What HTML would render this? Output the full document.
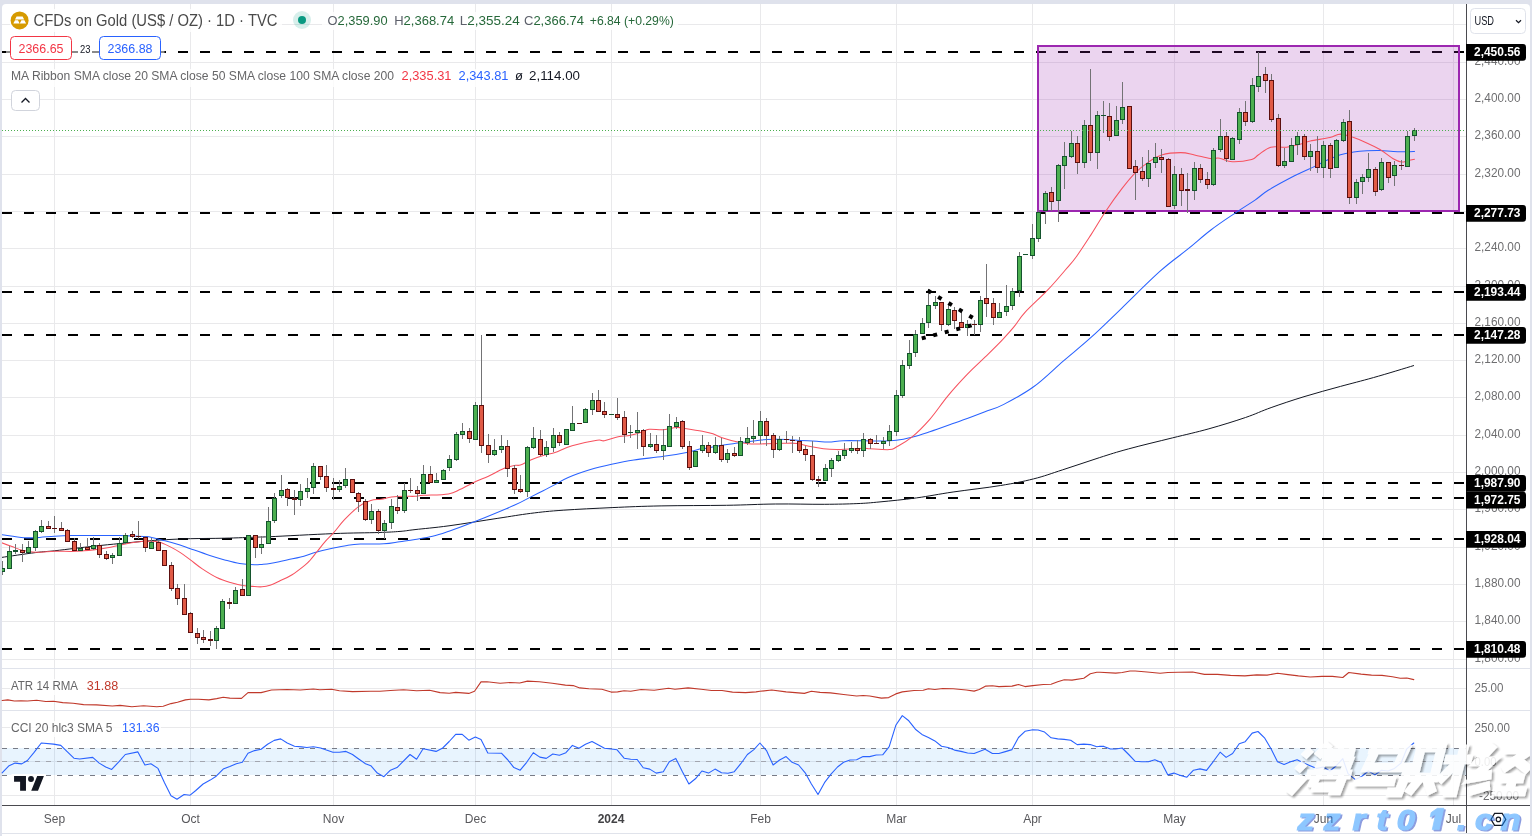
<!DOCTYPE html>
<html><head><meta charset="utf-8"><title>Gold chart</title>
<style>html,body{margin:0;padding:0;background:#dfe2ec;overflow:hidden}body{width:1532px;height:836px;font-family:"Liberation Sans",sans-serif}</style>
</head><body>
<svg width="1532" height="836" viewBox="0 0 1532 836" style="display:block;will-change:transform">
<defs>
<clipPath id="cm"><rect x="2" y="4" width="1464" height="664"/></clipPath>
<clipPath id="cp"><rect x="2" y="4" width="1528" height="832"/></clipPath>
<filter id="ws" x="-10%" y="-10%" width="130%" height="130%"><feGaussianBlur in="SourceAlpha" stdDeviation="1.3"/><feOffset dx="1.8" dy="2"/><feComponentTransfer><feFuncA type="linear" slope="0.42"/></feComponentTransfer><feMerge><feMergeNode/><feMergeNode in="SourceGraphic"/></feMerge></filter>
</defs>
<rect width="1532" height="836" fill="#dfe2ec"/>
<path d="M2 836V8a4 4 0 0 1 4-4H1526a4 4 0 0 1 4 4V836Z" fill="#fff"/>
<rect x="2" y="833" width="1528" height="1" fill="#e0e3eb"/>
<g shape-rendering="crispEdges">
<rect x="54" y="4" width="1" height="801" fill="#e9e9eb"/>
<rect x="190" y="4" width="1" height="801" fill="#e9e9eb"/>
<rect x="333" y="4" width="1" height="801" fill="#e9e9eb"/>
<rect x="475" y="4" width="1" height="801" fill="#e9e9eb"/>
<rect x="611" y="4" width="1" height="801" fill="#e9e9eb"/>
<rect x="760" y="4" width="1" height="801" fill="#e9e9eb"/>
<rect x="896" y="4" width="1" height="801" fill="#e9e9eb"/>
<rect x="1032" y="4" width="1" height="801" fill="#e9e9eb"/>
<rect x="1174" y="4" width="1" height="801" fill="#e9e9eb"/>
<rect x="1323" y="4" width="1" height="801" fill="#e9e9eb"/>
<rect x="1453" y="4" width="1" height="801" fill="#e9e9eb"/>
<rect x="2" y="659" width="1464" height="1" fill="#e9e9eb"/>
<rect x="2" y="621" width="1464" height="1" fill="#e9e9eb"/>
<rect x="2" y="584" width="1464" height="1" fill="#e9e9eb"/>
<rect x="2" y="547" width="1464" height="1" fill="#e9e9eb"/>
<rect x="2" y="509" width="1464" height="1" fill="#e9e9eb"/>
<rect x="2" y="472" width="1464" height="1" fill="#e9e9eb"/>
<rect x="2" y="435" width="1464" height="1" fill="#e9e9eb"/>
<rect x="2" y="397" width="1464" height="1" fill="#e9e9eb"/>
<rect x="2" y="360" width="1464" height="1" fill="#e9e9eb"/>
<rect x="2" y="323" width="1464" height="1" fill="#e9e9eb"/>
<rect x="2" y="286" width="1464" height="1" fill="#e9e9eb"/>
<rect x="2" y="248" width="1464" height="1" fill="#e9e9eb"/>
<rect x="2" y="211" width="1464" height="1" fill="#e9e9eb"/>
<rect x="2" y="174" width="1464" height="1" fill="#e9e9eb"/>
<rect x="2" y="136" width="1464" height="1" fill="#e9e9eb"/>
<rect x="2" y="99" width="1464" height="1" fill="#e9e9eb"/>
<rect x="2" y="62" width="1464" height="1" fill="#e9e9eb"/>
<rect x="2" y="24" width="1464" height="1" fill="#e9e9eb"/>
<rect x="2" y="688" width="1464" height="1" fill="#e9e9eb"/>
<rect x="2" y="727" width="1464" height="1" fill="#e9e9eb"/>
<rect x="2" y="761" width="1464" height="1" fill="#e9e9eb"/>
<rect x="2" y="795" width="1464" height="1" fill="#e9e9eb"/>
<rect x="2" y="668" width="1528" height="1" fill="#e0e3eb"/>
<rect x="2" y="710" width="1528" height="1" fill="#e0e3eb"/>
</g>
<rect x="2" y="748" width="1464" height="27" fill="#2196f3" fill-opacity="0.1"/>
<line x1="2" x2="1466" y1="748.5" y2="748.5" stroke="#787b86" stroke-width="1" stroke-dasharray="5 6" shape-rendering="crispEdges"/>
<line x1="2" x2="1466" y1="761.5" y2="761.5" stroke="#a3a6af" stroke-width="1" stroke-dasharray="5 6" shape-rendering="crispEdges"/>
<line x1="2" x2="1466" y1="775.5" y2="775.5" stroke="#787b86" stroke-width="1" stroke-dasharray="5 6" shape-rendering="crispEdges"/>
<g clip-path="url(#cm)">
<line x1="2" x2="1466" y1="52" y2="52" stroke="#000" stroke-width="2" stroke-dasharray="10 12"/>
<line x1="2" x2="1466" y1="213" y2="213" stroke="#000" stroke-width="2" stroke-dasharray="10 12"/>
<line x1="2" x2="1466" y1="292" y2="292" stroke="#000" stroke-width="2" stroke-dasharray="10 12"/>
<line x1="2" x2="1466" y1="335" y2="335" stroke="#000" stroke-width="2" stroke-dasharray="10 12"/>
<line x1="2" x2="1466" y1="483" y2="483" stroke="#000" stroke-width="2" stroke-dasharray="10 12"/>
<line x1="2" x2="1466" y1="498" y2="498" stroke="#000" stroke-width="2" stroke-dasharray="10 12"/>
<line x1="2" x2="1466" y1="539" y2="539" stroke="#000" stroke-width="2" stroke-dasharray="10 12"/>
<line x1="2" x2="1466" y1="649" y2="649" stroke="#000" stroke-width="2" stroke-dasharray="10 12"/>
<rect x="1038" y="46" width="421" height="165" fill="#9c27b0" fill-opacity="0.2" stroke="#9c27b0" stroke-width="2"/>
<path d="M1.8 557.4C7.8 556.5 25.9 553.8 35.4 552.6C44.9 551.4 47.5 551.6 54.5 550.8C61.5 550.0 67.0 549.3 74.4 548.4C81.8 547.5 87.6 546.9 95.7 546.0C103.8 545.1 111.0 544.4 119.6 543.6C128.2 542.8 136.2 541.9 143.5 541.3C150.8 540.7 151.6 540.5 160.0 540.0C168.4 539.5 178.8 539.0 190.4 538.7C202.0 538.4 212.6 538.5 224.7 538.2C236.8 537.9 249.4 537.4 257.6 537.1C265.8 536.8 256.3 537.3 270.0 536.7C283.7 536.1 313.9 534.4 333.5 533.6C353.1 532.8 366.7 532.9 378.7 532.5C390.7 532.1 393.5 531.9 400.0 531.4C406.5 530.9 406.2 530.6 415.0 529.6C423.8 528.6 434.1 527.8 449.0 525.8C463.9 523.8 483.2 520.5 497.9 518.3C512.6 516.1 518.7 514.9 530.5 513.4C542.3 511.9 548.5 511.2 563.2 510.2C577.9 509.2 594.5 508.4 612.1 507.6C629.7 506.8 640.5 506.3 661.1 505.9C681.7 505.5 705.8 505.6 726.4 505.3C747.0 505.0 757.7 504.2 775.3 504.0C792.9 503.8 809.6 504.4 824.3 504.3C839.0 504.2 846.9 504.0 856.9 503.6C866.9 503.2 869.3 502.9 880.0 501.9C890.7 500.9 903.3 499.7 916.5 497.9C929.7 496.1 938.0 494.2 953.1 492.0C968.2 489.8 986.1 487.9 1000.6 485.5C1015.1 483.1 1022.3 481.7 1033.5 478.9C1044.7 476.1 1050.9 473.6 1062.7 469.8C1074.5 466.0 1087.5 461.5 1099.3 457.7C1111.1 453.9 1115.3 452.5 1128.5 448.9C1141.7 445.3 1157.9 441.5 1172.4 437.9C1186.9 434.3 1195.7 432.5 1208.9 428.8C1222.1 425.1 1234.3 421.3 1245.5 417.5C1256.7 413.7 1260.6 411.3 1271.1 407.6C1281.6 403.9 1291.5 400.5 1304.0 396.7C1316.5 392.9 1328.0 389.8 1340.5 386.4C1353.0 383.0 1360.2 381.3 1373.4 377.6C1386.6 373.9 1406.4 367.8 1413.6 365.6" fill="none" stroke="#131722" stroke-width="1.0" stroke-linejoin="round" stroke-linecap="round"/>
<path d="M1.8 534.7C5.8 535.2 17.2 537.2 24.0 537.7C30.8 538.2 34.0 537.7 39.5 537.4C45.0 537.1 48.7 536.5 54.5 536.2C60.3 535.9 64.3 535.7 71.7 535.6C79.1 535.5 87.1 535.4 95.7 535.4C104.3 535.4 111.0 535.4 119.6 535.6C128.2 535.8 138.0 536.2 143.5 536.5C149.0 536.8 146.1 536.2 150.0 537.0C153.9 537.8 159.6 539.4 165.0 540.8C170.4 542.2 175.4 543.6 180.0 545.0C184.6 546.4 185.0 546.8 190.4 548.7C195.8 550.6 203.6 553.4 209.8 555.4C216.0 557.4 219.3 558.4 224.7 559.9C230.1 561.4 234.3 562.7 239.7 563.6C245.1 564.5 250.6 564.7 254.6 564.8C258.6 564.9 259.2 564.6 262.0 564.4C264.8 564.2 266.9 564.1 270.0 563.6C273.1 563.1 276.0 562.5 279.2 561.8C282.4 561.1 284.0 560.6 287.9 559.7C291.8 558.8 295.5 558.4 300.7 557.0C305.9 555.6 310.9 553.6 316.8 552.0C322.7 550.4 328.0 549.2 333.5 548.0C339.0 546.8 342.3 546.1 347.1 545.4C351.9 544.7 353.7 544.4 360.3 544.1C366.9 543.8 376.8 544.2 383.9 543.8C391.0 543.4 394.1 542.5 399.7 541.7C405.3 540.9 409.1 540.5 415.0 539.5C420.9 538.5 426.5 537.8 432.6 536.3C438.7 534.8 441.4 533.8 449.0 531.2C456.6 528.6 463.3 526.3 475.0 521.6C486.7 516.9 504.2 509.7 514.2 505.3C524.2 500.9 525.3 499.7 530.5 497.1C535.7 494.5 538.8 492.9 543.2 490.7C547.6 488.4 550.5 487.0 555.0 484.6C559.5 482.2 561.8 480.1 568.2 477.4C574.6 474.7 582.7 471.9 590.5 469.5C598.3 467.1 603.8 465.9 611.6 464.2C619.4 462.5 624.5 461.4 633.9 460.0C643.3 458.6 654.1 457.7 663.6 456.3C673.1 454.9 680.1 453.7 686.6 452.4C693.1 451.1 696.4 449.8 699.7 449.1C703.0 448.4 701.0 449.3 705.0 448.6C709.0 447.9 716.2 446.3 722.1 445.3C728.0 444.3 731.5 443.9 737.9 443.0C744.3 442.1 752.4 441.0 757.6 440.4C762.8 439.8 761.6 439.7 766.8 439.5C772.0 439.3 780.7 439.3 786.6 439.5C792.5 439.7 794.3 440.1 799.7 440.4C805.1 440.7 811.6 441.0 816.8 441.3C822.0 441.6 823.9 442.1 828.7 442.0C833.5 441.9 836.7 440.9 843.2 440.7C849.7 440.5 858.8 440.7 865.0 440.8C871.2 440.9 871.7 441.1 877.4 441.0C883.1 440.9 890.2 440.9 896.4 440.2C902.6 439.5 905.8 438.7 911.8 437.2C917.8 435.7 922.5 434.1 929.8 431.7C937.1 429.3 945.5 426.2 952.2 423.8C958.9 421.4 961.3 420.7 967.2 418.5C973.1 416.3 978.5 414.3 985.0 411.8C991.5 409.3 994.6 409.1 1003.3 404.6C1012.0 400.1 1022.7 394.7 1033.6 386.8C1044.5 378.9 1053.4 369.5 1063.8 360.6C1074.2 351.7 1080.9 346.6 1091.3 337.2C1101.7 327.8 1109.2 320.2 1121.6 308.3C1134.0 296.4 1148.2 281.8 1160.1 271.2C1172.0 260.6 1178.6 256.6 1187.7 249.2C1196.8 241.8 1202.1 236.7 1210.9 230.0C1219.7 223.3 1228.7 217.5 1236.6 212.1C1244.5 206.7 1249.3 204.0 1255.0 200.1C1260.7 196.2 1261.1 194.7 1268.2 190.3C1275.3 185.9 1286.2 180.1 1294.5 175.8C1302.8 171.5 1308.3 169.4 1314.2 166.6C1320.1 163.8 1322.7 162.1 1327.4 160.0C1332.1 157.9 1335.8 156.1 1340.5 154.7C1345.2 153.3 1349.0 152.8 1353.7 152.1C1358.4 151.4 1362.1 151.1 1366.8 150.8C1371.5 150.5 1375.2 150.4 1380.0 150.5C1384.8 150.6 1388.5 151.2 1393.2 151.4C1397.9 151.6 1402.5 151.8 1406.3 151.8C1410.1 151.8 1413.0 151.5 1414.5 151.4" fill="none" stroke="#2962ff" stroke-width="1.05" stroke-linejoin="round" stroke-linecap="round"/>
<path d="M1.8 542.8C3.6 543.5 8.3 545.3 12.0 546.6C15.7 547.9 18.2 549.2 22.4 550.2C26.6 551.2 29.6 552.1 35.4 552.3C41.2 552.5 48.0 551.4 54.5 551.2C61.0 551.0 66.4 551.5 71.7 551.4C77.0 551.3 79.4 551.1 83.7 550.8C88.0 550.5 91.4 550.1 95.7 549.6C100.0 549.1 103.3 548.6 107.6 547.8C111.9 547.0 115.3 546.1 119.6 545.2C123.9 544.3 127.2 543.5 131.5 542.8C135.8 542.1 140.2 541.6 143.5 541.3C146.8 541.0 147.2 541.1 150.0 541.2C152.8 541.3 155.5 541.1 159.0 542.0C162.5 542.9 165.6 544.5 169.4 546.4C173.2 548.3 176.2 550.0 180.0 552.4C183.8 554.8 186.4 556.9 190.4 559.9C194.4 562.9 197.5 565.7 202.3 568.9C207.1 572.1 211.9 575.2 217.3 577.8C222.7 580.4 227.6 581.7 232.2 583.1C236.8 584.5 238.7 585.0 242.7 585.6C246.7 586.2 251.1 586.3 254.6 586.5C258.1 586.7 259.2 587.0 262.0 586.8C264.8 586.6 266.9 586.3 270.0 585.3C273.1 584.3 275.2 583.1 279.2 581.2C283.2 579.3 287.5 577.6 292.1 574.7C296.7 571.8 301.7 567.7 305.0 565.1C308.3 562.5 308.2 562.4 310.3 560.0C312.4 557.6 314.2 555.2 316.8 552.0C319.4 548.8 321.7 545.5 324.7 542.1C327.7 538.7 329.9 536.9 333.5 532.9C337.1 528.9 340.0 524.4 344.5 519.7C349.0 515.0 353.9 510.1 358.6 506.6C363.3 503.1 366.7 501.7 370.8 500.4C374.9 499.1 377.6 499.9 381.3 499.3C385.0 498.7 387.3 497.6 391.4 497.1C395.5 496.6 400.1 496.4 404.3 496.3C408.5 496.2 411.6 496.5 415.0 496.3C418.4 496.1 417.4 495.7 423.4 495.3C429.4 494.9 441.8 495.0 448.4 493.9C455.0 492.8 455.4 491.6 460.3 489.3C465.2 487.1 470.6 483.8 475.7 481.4C480.8 479.0 483.4 478.5 488.4 476.2C493.4 473.9 499.1 470.5 503.7 468.6C508.3 466.7 511.2 466.0 514.2 465.4C517.2 464.8 517.3 466.0 520.4 465.0C523.5 464.0 526.6 461.6 531.3 459.7C536.0 457.8 542.1 455.8 546.4 454.5C550.7 453.2 550.4 454.2 555.0 452.6C559.6 451.0 564.5 448.0 572.1 445.8C579.7 443.6 591.3 441.2 597.1 440.3C602.9 439.4 600.5 441.4 604.3 440.8C608.1 440.2 613.5 437.8 618.2 436.8C622.9 435.8 626.2 436.2 630.4 435.3C634.6 434.4 638.4 433.1 641.8 432.0C645.2 430.9 645.2 429.7 649.1 429.3C653.0 428.9 658.7 430.0 663.6 429.7C668.5 429.4 672.3 427.6 676.4 427.4C680.5 427.2 681.9 428.0 686.6 428.7C691.3 429.4 697.7 430.4 702.4 431.3C707.1 432.2 709.4 432.6 712.9 433.8C716.4 435.0 717.6 436.3 722.1 437.8C726.6 439.3 732.7 441.0 737.9 442.1C743.1 443.2 745.9 443.7 751.1 444.0C756.3 444.3 760.9 443.8 766.8 443.7C772.7 443.6 778.4 443.4 783.9 443.3C789.4 443.2 792.6 442.9 797.1 443.4C801.6 443.9 804.2 445.3 808.9 446.3C813.6 447.3 818.4 448.1 823.4 448.7C828.4 449.3 831.9 449.5 836.6 449.6C841.3 449.7 844.6 449.2 849.7 449.0C854.8 448.8 861.3 448.3 865.0 448.3C868.7 448.3 865.6 448.6 870.0 448.8C874.4 449.0 884.6 449.9 889.4 449.6C894.2 449.3 892.4 449.2 896.4 447.0C900.4 444.8 905.8 442.2 911.8 437.2C917.8 432.2 923.3 426.7 929.8 419.3C936.3 411.9 941.0 404.2 947.7 396.1C954.4 388.0 960.5 381.4 967.2 374.4C973.9 367.4 978.6 363.5 985.0 357.2C991.4 350.9 997.4 345.1 1002.6 339.6C1007.8 334.1 1010.1 331.6 1014.1 326.7C1018.1 321.8 1019.0 318.9 1025.0 312.4C1031.0 305.9 1040.0 298.0 1047.3 290.4C1054.6 282.8 1060.0 276.2 1065.3 270.0C1070.6 263.8 1072.1 262.6 1076.7 256.2C1081.3 249.8 1085.9 242.6 1091.1 234.6C1096.3 226.6 1099.8 220.0 1105.4 211.7C1111.0 203.4 1116.7 195.4 1122.1 188.4C1127.5 181.4 1130.8 177.3 1135.5 172.6C1140.2 167.9 1143.7 165.3 1148.4 162.1C1153.1 158.9 1155.8 156.6 1161.6 154.9C1167.4 153.2 1174.8 152.6 1180.7 152.6C1186.6 152.6 1189.2 153.8 1194.5 154.9C1199.8 156.0 1205.8 158.0 1210.3 158.6C1214.8 159.2 1215.5 157.6 1219.5 158.2C1223.5 158.8 1226.6 161.6 1232.4 161.8C1238.2 162.0 1247.1 160.7 1251.7 159.5C1256.3 158.3 1254.8 157.2 1258.2 155.0C1261.6 152.8 1265.7 148.6 1270.8 147.2C1275.9 145.8 1281.1 147.8 1286.6 147.2C1292.1 146.6 1296.8 145.0 1301.1 143.9C1305.4 142.8 1305.1 142.0 1310.3 140.9C1315.5 139.8 1324.6 138.8 1330.0 137.6C1335.4 136.4 1336.2 134.1 1340.5 134.1C1344.8 134.1 1349.0 136.0 1353.7 137.6C1358.4 139.2 1362.1 140.8 1366.8 142.9C1371.5 145.0 1375.2 146.7 1380.0 149.5C1384.8 152.3 1389.3 156.4 1393.2 158.7C1397.1 160.9 1398.8 161.6 1401.4 162.0C1404.0 162.4 1405.2 161.2 1407.6 160.7C1410.0 160.2 1413.3 159.6 1414.5 159.3" fill="none" stroke="#f7525f" stroke-width="1.05" stroke-linejoin="round" stroke-linecap="round"/>
<g shape-rendering="crispEdges">
<rect x="2" y="561" width="1" height="7" fill="#737375"/>
<rect x="2" y="572" width="1" height="3" fill="#737375"/>
<rect x="0" y="568" width="5" height="4" fill="#14532d"/>
<rect x="1" y="569" width="3" height="2" fill="#4caf50"/>
<rect x="9" y="546" width="1" height="5" fill="#737375"/>
<rect x="7" y="551" width="5" height="18" fill="#14532d"/>
<rect x="8" y="552" width="3" height="16" fill="#4caf50"/>
<rect x="15" y="544" width="1" height="6" fill="#737375"/>
<rect x="15" y="552" width="1" height="2" fill="#737375"/>
<rect x="13" y="550" width="5" height="2" fill="#14532d"/>
<rect x="22" y="544" width="1" height="6" fill="#737375"/>
<rect x="22" y="553" width="1" height="9" fill="#737375"/>
<rect x="20" y="550" width="5" height="3" fill="#5c0f0f"/>
<rect x="21" y="551" width="3" height="1" fill="#e05a46"/>
<rect x="28" y="541" width="1" height="6" fill="#737375"/>
<rect x="26" y="547" width="5" height="6" fill="#14532d"/>
<rect x="27" y="548" width="3" height="4" fill="#4caf50"/>
<rect x="35" y="530" width="1" height="1" fill="#737375"/>
<rect x="35" y="548" width="1" height="3" fill="#737375"/>
<rect x="33" y="531" width="5" height="17" fill="#14532d"/>
<rect x="34" y="532" width="3" height="15" fill="#4caf50"/>
<rect x="41" y="520" width="1" height="6" fill="#737375"/>
<rect x="41" y="532" width="1" height="1" fill="#737375"/>
<rect x="39" y="526" width="5" height="6" fill="#14532d"/>
<rect x="40" y="527" width="3" height="4" fill="#4caf50"/>
<rect x="48" y="521" width="1" height="5" fill="#737375"/>
<rect x="46" y="526" width="5" height="3" fill="#5c0f0f"/>
<rect x="47" y="527" width="3" height="1" fill="#e05a46"/>
<rect x="54" y="516" width="1" height="12" fill="#737375"/>
<rect x="54" y="529" width="1" height="4" fill="#737375"/>
<rect x="52" y="528" width="5" height="1" fill="#5c0f0f"/>
<rect x="61" y="522" width="1" height="6" fill="#737375"/>
<rect x="59" y="528" width="5" height="3" fill="#5c0f0f"/>
<rect x="60" y="529" width="3" height="1" fill="#e05a46"/>
<rect x="67" y="529" width="1" height="1" fill="#737375"/>
<rect x="65" y="530" width="5" height="12" fill="#5c0f0f"/>
<rect x="66" y="531" width="3" height="10" fill="#e05a46"/>
<rect x="74" y="538" width="1" height="3" fill="#737375"/>
<rect x="72" y="541" width="5" height="10" fill="#5c0f0f"/>
<rect x="73" y="542" width="3" height="8" fill="#e05a46"/>
<rect x="80" y="543" width="1" height="5" fill="#737375"/>
<rect x="78" y="548" width="5" height="3" fill="#14532d"/>
<rect x="79" y="549" width="3" height="1" fill="#4caf50"/>
<rect x="87" y="538" width="1" height="9" fill="#737375"/>
<rect x="85" y="547" width="5" height="3" fill="#5c0f0f"/>
<rect x="86" y="548" width="3" height="1" fill="#e05a46"/>
<rect x="93" y="537" width="1" height="8" fill="#737375"/>
<rect x="93" y="549" width="1" height="1" fill="#737375"/>
<rect x="91" y="545" width="5" height="4" fill="#14532d"/>
<rect x="92" y="546" width="3" height="2" fill="#4caf50"/>
<rect x="99" y="543" width="1" height="2" fill="#737375"/>
<rect x="99" y="555" width="1" height="3" fill="#737375"/>
<rect x="97" y="545" width="5" height="10" fill="#5c0f0f"/>
<rect x="98" y="546" width="3" height="8" fill="#e05a46"/>
<rect x="106" y="551" width="1" height="3" fill="#737375"/>
<rect x="106" y="559" width="1" height="1" fill="#737375"/>
<rect x="104" y="554" width="5" height="5" fill="#5c0f0f"/>
<rect x="105" y="555" width="3" height="3" fill="#e05a46"/>
<rect x="112" y="553" width="1" height="2" fill="#737375"/>
<rect x="112" y="558" width="1" height="6" fill="#737375"/>
<rect x="110" y="555" width="5" height="3" fill="#14532d"/>
<rect x="111" y="556" width="3" height="1" fill="#4caf50"/>
<rect x="119" y="537" width="1" height="6" fill="#737375"/>
<rect x="117" y="543" width="5" height="13" fill="#14532d"/>
<rect x="118" y="544" width="3" height="11" fill="#4caf50"/>
<rect x="125" y="533" width="1" height="2" fill="#737375"/>
<rect x="125" y="543" width="1" height="1" fill="#737375"/>
<rect x="123" y="535" width="5" height="8" fill="#14532d"/>
<rect x="124" y="536" width="3" height="6" fill="#4caf50"/>
<rect x="132" y="531" width="1" height="3" fill="#737375"/>
<rect x="132" y="537" width="1" height="1" fill="#737375"/>
<rect x="130" y="534" width="5" height="3" fill="#5c0f0f"/>
<rect x="131" y="535" width="3" height="1" fill="#e05a46"/>
<rect x="138" y="521" width="1" height="15" fill="#737375"/>
<rect x="138" y="537" width="1" height="2" fill="#737375"/>
<rect x="136" y="536" width="5" height="1" fill="#5c0f0f"/>
<rect x="145" y="536" width="1" height="1" fill="#737375"/>
<rect x="145" y="548" width="1" height="4" fill="#737375"/>
<rect x="143" y="537" width="5" height="11" fill="#5c0f0f"/>
<rect x="144" y="538" width="3" height="9" fill="#e05a46"/>
<rect x="151" y="538" width="1" height="4" fill="#737375"/>
<rect x="149" y="542" width="5" height="7" fill="#14532d"/>
<rect x="150" y="543" width="3" height="5" fill="#4caf50"/>
<rect x="158" y="541" width="1" height="1" fill="#737375"/>
<rect x="156" y="542" width="5" height="9" fill="#5c0f0f"/>
<rect x="157" y="543" width="3" height="7" fill="#e05a46"/>
<rect x="162" y="550" width="5" height="16" fill="#5c0f0f"/>
<rect x="163" y="551" width="3" height="14" fill="#e05a46"/>
<rect x="171" y="562" width="1" height="3" fill="#737375"/>
<rect x="171" y="589" width="1" height="2" fill="#737375"/>
<rect x="169" y="565" width="5" height="24" fill="#5c0f0f"/>
<rect x="170" y="566" width="3" height="22" fill="#e05a46"/>
<rect x="177" y="584" width="1" height="4" fill="#737375"/>
<rect x="177" y="599" width="1" height="6" fill="#737375"/>
<rect x="175" y="588" width="5" height="11" fill="#5c0f0f"/>
<rect x="176" y="589" width="3" height="9" fill="#e05a46"/>
<rect x="184" y="584" width="1" height="14" fill="#737375"/>
<rect x="182" y="598" width="5" height="17" fill="#5c0f0f"/>
<rect x="183" y="599" width="3" height="15" fill="#e05a46"/>
<rect x="190" y="612" width="1" height="1" fill="#737375"/>
<rect x="188" y="613" width="5" height="20" fill="#5c0f0f"/>
<rect x="189" y="614" width="3" height="18" fill="#e05a46"/>
<rect x="197" y="628" width="1" height="5" fill="#737375"/>
<rect x="197" y="638" width="1" height="6" fill="#737375"/>
<rect x="195" y="633" width="5" height="5" fill="#5c0f0f"/>
<rect x="196" y="634" width="3" height="3" fill="#e05a46"/>
<rect x="203" y="630" width="1" height="7" fill="#737375"/>
<rect x="203" y="640" width="1" height="3" fill="#737375"/>
<rect x="201" y="637" width="5" height="3" fill="#5c0f0f"/>
<rect x="202" y="638" width="3" height="1" fill="#e05a46"/>
<rect x="210" y="631" width="1" height="8" fill="#737375"/>
<rect x="210" y="641" width="1" height="5" fill="#737375"/>
<rect x="208" y="639" width="5" height="2" fill="#5c0f0f"/>
<rect x="216" y="626" width="1" height="2" fill="#737375"/>
<rect x="216" y="641" width="1" height="8" fill="#737375"/>
<rect x="214" y="628" width="5" height="13" fill="#14532d"/>
<rect x="215" y="629" width="3" height="11" fill="#4caf50"/>
<rect x="222" y="599" width="1" height="2" fill="#737375"/>
<rect x="220" y="601" width="5" height="28" fill="#14532d"/>
<rect x="221" y="602" width="3" height="26" fill="#4caf50"/>
<rect x="229" y="598" width="1" height="4" fill="#737375"/>
<rect x="229" y="604" width="1" height="5" fill="#737375"/>
<rect x="227" y="602" width="5" height="2" fill="#5c0f0f"/>
<rect x="235" y="587" width="1" height="3" fill="#737375"/>
<rect x="233" y="590" width="5" height="14" fill="#14532d"/>
<rect x="234" y="591" width="3" height="12" fill="#4caf50"/>
<rect x="242" y="579" width="1" height="10" fill="#737375"/>
<rect x="240" y="589" width="5" height="7" fill="#5c0f0f"/>
<rect x="241" y="590" width="3" height="5" fill="#e05a46"/>
<rect x="246" y="535" width="5" height="61" fill="#14532d"/>
<rect x="247" y="536" width="3" height="59" fill="#4caf50"/>
<rect x="255" y="548" width="1" height="10" fill="#737375"/>
<rect x="253" y="535" width="5" height="13" fill="#5c0f0f"/>
<rect x="254" y="536" width="3" height="11" fill="#e05a46"/>
<rect x="261" y="536" width="1" height="8" fill="#737375"/>
<rect x="261" y="548" width="1" height="6" fill="#737375"/>
<rect x="259" y="544" width="5" height="4" fill="#14532d"/>
<rect x="260" y="545" width="3" height="2" fill="#4caf50"/>
<rect x="268" y="507" width="1" height="14" fill="#737375"/>
<rect x="266" y="521" width="5" height="23" fill="#14532d"/>
<rect x="267" y="522" width="3" height="21" fill="#4caf50"/>
<rect x="274" y="493" width="1" height="5" fill="#737375"/>
<rect x="274" y="521" width="1" height="2" fill="#737375"/>
<rect x="272" y="498" width="5" height="23" fill="#14532d"/>
<rect x="273" y="499" width="3" height="21" fill="#4caf50"/>
<rect x="281" y="475" width="1" height="15" fill="#737375"/>
<rect x="281" y="496" width="1" height="2" fill="#737375"/>
<rect x="279" y="490" width="5" height="6" fill="#14532d"/>
<rect x="280" y="491" width="3" height="4" fill="#4caf50"/>
<rect x="287" y="488" width="1" height="1" fill="#737375"/>
<rect x="287" y="498" width="1" height="8" fill="#737375"/>
<rect x="285" y="489" width="5" height="9" fill="#5c0f0f"/>
<rect x="286" y="490" width="3" height="7" fill="#e05a46"/>
<rect x="294" y="490" width="1" height="8" fill="#737375"/>
<rect x="294" y="500" width="1" height="15" fill="#737375"/>
<rect x="292" y="498" width="5" height="2" fill="#5c0f0f"/>
<rect x="300" y="484" width="1" height="7" fill="#737375"/>
<rect x="300" y="500" width="1" height="6" fill="#737375"/>
<rect x="298" y="491" width="5" height="9" fill="#14532d"/>
<rect x="299" y="492" width="3" height="7" fill="#4caf50"/>
<rect x="307" y="478" width="1" height="10" fill="#737375"/>
<rect x="307" y="492" width="1" height="6" fill="#737375"/>
<rect x="305" y="488" width="5" height="4" fill="#14532d"/>
<rect x="306" y="489" width="3" height="2" fill="#4caf50"/>
<rect x="313" y="463" width="1" height="3" fill="#737375"/>
<rect x="313" y="488" width="1" height="6" fill="#737375"/>
<rect x="311" y="466" width="5" height="22" fill="#14532d"/>
<rect x="312" y="467" width="3" height="20" fill="#4caf50"/>
<rect x="320" y="477" width="1" height="3" fill="#737375"/>
<rect x="318" y="466" width="5" height="11" fill="#5c0f0f"/>
<rect x="319" y="467" width="3" height="9" fill="#e05a46"/>
<rect x="326" y="465" width="1" height="11" fill="#737375"/>
<rect x="326" y="488" width="1" height="4" fill="#737375"/>
<rect x="324" y="476" width="5" height="12" fill="#5c0f0f"/>
<rect x="325" y="477" width="3" height="10" fill="#e05a46"/>
<rect x="333" y="478" width="1" height="10" fill="#737375"/>
<rect x="333" y="490" width="1" height="10" fill="#737375"/>
<rect x="331" y="488" width="5" height="2" fill="#5c0f0f"/>
<rect x="339" y="480" width="1" height="6" fill="#737375"/>
<rect x="339" y="490" width="1" height="2" fill="#737375"/>
<rect x="337" y="486" width="5" height="4" fill="#14532d"/>
<rect x="338" y="487" width="3" height="2" fill="#4caf50"/>
<rect x="345" y="468" width="1" height="11" fill="#737375"/>
<rect x="345" y="486" width="1" height="2" fill="#737375"/>
<rect x="343" y="479" width="5" height="7" fill="#14532d"/>
<rect x="344" y="480" width="3" height="5" fill="#4caf50"/>
<rect x="350" y="479" width="5" height="14" fill="#5c0f0f"/>
<rect x="351" y="480" width="3" height="12" fill="#e05a46"/>
<rect x="358" y="492" width="1" height="1" fill="#737375"/>
<rect x="358" y="502" width="1" height="10" fill="#737375"/>
<rect x="356" y="493" width="5" height="9" fill="#5c0f0f"/>
<rect x="357" y="494" width="3" height="7" fill="#e05a46"/>
<rect x="365" y="499" width="1" height="2" fill="#737375"/>
<rect x="365" y="520" width="1" height="1" fill="#737375"/>
<rect x="363" y="501" width="5" height="19" fill="#5c0f0f"/>
<rect x="364" y="502" width="3" height="17" fill="#e05a46"/>
<rect x="371" y="504" width="1" height="7" fill="#737375"/>
<rect x="371" y="520" width="1" height="4" fill="#737375"/>
<rect x="369" y="511" width="5" height="9" fill="#14532d"/>
<rect x="370" y="512" width="3" height="7" fill="#4caf50"/>
<rect x="378" y="509" width="1" height="2" fill="#737375"/>
<rect x="378" y="531" width="1" height="3" fill="#737375"/>
<rect x="376" y="511" width="5" height="20" fill="#5c0f0f"/>
<rect x="377" y="512" width="3" height="18" fill="#e05a46"/>
<rect x="384" y="520" width="1" height="3" fill="#737375"/>
<rect x="384" y="531" width="1" height="8" fill="#737375"/>
<rect x="382" y="523" width="5" height="8" fill="#14532d"/>
<rect x="383" y="524" width="3" height="6" fill="#4caf50"/>
<rect x="391" y="499" width="1" height="7" fill="#737375"/>
<rect x="391" y="523" width="1" height="6" fill="#737375"/>
<rect x="389" y="506" width="5" height="17" fill="#14532d"/>
<rect x="390" y="507" width="3" height="15" fill="#4caf50"/>
<rect x="397" y="495" width="1" height="12" fill="#737375"/>
<rect x="397" y="511" width="1" height="3" fill="#737375"/>
<rect x="395" y="507" width="5" height="4" fill="#5c0f0f"/>
<rect x="396" y="508" width="3" height="2" fill="#e05a46"/>
<rect x="404" y="483" width="1" height="7" fill="#737375"/>
<rect x="404" y="511" width="1" height="2" fill="#737375"/>
<rect x="402" y="490" width="5" height="21" fill="#14532d"/>
<rect x="403" y="491" width="3" height="19" fill="#4caf50"/>
<rect x="410" y="478" width="1" height="12" fill="#737375"/>
<rect x="410" y="491" width="1" height="2" fill="#737375"/>
<rect x="408" y="490" width="5" height="1" fill="#5c0f0f"/>
<rect x="417" y="486" width="1" height="4" fill="#737375"/>
<rect x="417" y="494" width="1" height="7" fill="#737375"/>
<rect x="415" y="490" width="5" height="4" fill="#5c0f0f"/>
<rect x="416" y="491" width="3" height="2" fill="#e05a46"/>
<rect x="423" y="465" width="1" height="9" fill="#737375"/>
<rect x="421" y="474" width="5" height="20" fill="#14532d"/>
<rect x="422" y="475" width="3" height="18" fill="#4caf50"/>
<rect x="430" y="466" width="1" height="8" fill="#737375"/>
<rect x="428" y="474" width="5" height="9" fill="#5c0f0f"/>
<rect x="429" y="475" width="3" height="7" fill="#e05a46"/>
<rect x="436" y="473" width="1" height="7" fill="#737375"/>
<rect x="434" y="480" width="5" height="3" fill="#14532d"/>
<rect x="435" y="481" width="3" height="1" fill="#4caf50"/>
<rect x="443" y="469" width="1" height="1" fill="#737375"/>
<rect x="441" y="470" width="5" height="10" fill="#14532d"/>
<rect x="442" y="471" width="3" height="8" fill="#4caf50"/>
<rect x="449" y="455" width="1" height="4" fill="#737375"/>
<rect x="449" y="468" width="1" height="3" fill="#737375"/>
<rect x="447" y="459" width="5" height="9" fill="#14532d"/>
<rect x="448" y="460" width="3" height="7" fill="#4caf50"/>
<rect x="456" y="432" width="1" height="2" fill="#737375"/>
<rect x="456" y="460" width="1" height="1" fill="#737375"/>
<rect x="454" y="434" width="5" height="26" fill="#14532d"/>
<rect x="455" y="435" width="3" height="24" fill="#4caf50"/>
<rect x="462" y="423" width="1" height="8" fill="#737375"/>
<rect x="462" y="435" width="1" height="4" fill="#737375"/>
<rect x="460" y="431" width="5" height="4" fill="#14532d"/>
<rect x="461" y="432" width="3" height="2" fill="#4caf50"/>
<rect x="469" y="428" width="1" height="3" fill="#737375"/>
<rect x="469" y="439" width="1" height="4" fill="#737375"/>
<rect x="467" y="431" width="5" height="8" fill="#5c0f0f"/>
<rect x="468" y="432" width="3" height="6" fill="#e05a46"/>
<rect x="475" y="402" width="1" height="3" fill="#737375"/>
<rect x="473" y="405" width="5" height="35" fill="#14532d"/>
<rect x="474" y="406" width="3" height="33" fill="#4caf50"/>
<rect x="481" y="335" width="1" height="70" fill="#737375"/>
<rect x="481" y="446" width="1" height="7" fill="#737375"/>
<rect x="479" y="405" width="5" height="41" fill="#5c0f0f"/>
<rect x="480" y="406" width="3" height="39" fill="#e05a46"/>
<rect x="488" y="434" width="1" height="11" fill="#737375"/>
<rect x="488" y="455" width="1" height="8" fill="#737375"/>
<rect x="486" y="445" width="5" height="10" fill="#5c0f0f"/>
<rect x="487" y="446" width="3" height="8" fill="#e05a46"/>
<rect x="494" y="439" width="1" height="11" fill="#737375"/>
<rect x="494" y="455" width="1" height="1" fill="#737375"/>
<rect x="492" y="450" width="5" height="5" fill="#14532d"/>
<rect x="493" y="451" width="3" height="3" fill="#4caf50"/>
<rect x="501" y="435" width="1" height="11" fill="#737375"/>
<rect x="501" y="450" width="1" height="3" fill="#737375"/>
<rect x="499" y="446" width="5" height="4" fill="#14532d"/>
<rect x="500" y="447" width="3" height="2" fill="#4caf50"/>
<rect x="507" y="440" width="1" height="6" fill="#737375"/>
<rect x="507" y="469" width="1" height="8" fill="#737375"/>
<rect x="505" y="446" width="5" height="23" fill="#5c0f0f"/>
<rect x="506" y="447" width="3" height="21" fill="#e05a46"/>
<rect x="514" y="465" width="1" height="3" fill="#737375"/>
<rect x="514" y="490" width="1" height="4" fill="#737375"/>
<rect x="512" y="468" width="5" height="22" fill="#5c0f0f"/>
<rect x="513" y="469" width="3" height="20" fill="#e05a46"/>
<rect x="520" y="475" width="1" height="14" fill="#737375"/>
<rect x="520" y="492" width="1" height="1" fill="#737375"/>
<rect x="518" y="489" width="5" height="3" fill="#5c0f0f"/>
<rect x="519" y="490" width="3" height="1" fill="#e05a46"/>
<rect x="527" y="446" width="1" height="1" fill="#737375"/>
<rect x="527" y="492" width="1" height="5" fill="#737375"/>
<rect x="525" y="447" width="5" height="45" fill="#14532d"/>
<rect x="526" y="448" width="3" height="43" fill="#4caf50"/>
<rect x="533" y="427" width="1" height="11" fill="#737375"/>
<rect x="533" y="448" width="1" height="1" fill="#737375"/>
<rect x="531" y="438" width="5" height="10" fill="#14532d"/>
<rect x="532" y="439" width="3" height="8" fill="#4caf50"/>
<rect x="540" y="430" width="1" height="9" fill="#737375"/>
<rect x="540" y="455" width="1" height="1" fill="#737375"/>
<rect x="538" y="439" width="5" height="16" fill="#5c0f0f"/>
<rect x="539" y="440" width="3" height="14" fill="#e05a46"/>
<rect x="546" y="441" width="1" height="6" fill="#737375"/>
<rect x="546" y="455" width="1" height="2" fill="#737375"/>
<rect x="544" y="447" width="5" height="8" fill="#14532d"/>
<rect x="545" y="448" width="3" height="6" fill="#4caf50"/>
<rect x="553" y="428" width="1" height="7" fill="#737375"/>
<rect x="553" y="448" width="1" height="4" fill="#737375"/>
<rect x="551" y="435" width="5" height="13" fill="#14532d"/>
<rect x="552" y="436" width="3" height="11" fill="#4caf50"/>
<rect x="559" y="432" width="1" height="3" fill="#737375"/>
<rect x="559" y="443" width="1" height="3" fill="#737375"/>
<rect x="557" y="435" width="5" height="8" fill="#5c0f0f"/>
<rect x="558" y="436" width="3" height="6" fill="#e05a46"/>
<rect x="564" y="429" width="5" height="16" fill="#14532d"/>
<rect x="565" y="430" width="3" height="14" fill="#4caf50"/>
<rect x="572" y="406" width="1" height="17" fill="#737375"/>
<rect x="570" y="423" width="5" height="8" fill="#14532d"/>
<rect x="571" y="424" width="3" height="6" fill="#4caf50"/>
<rect x="577" y="423" width="5" height="1" fill="#5c0f0f"/>
<rect x="585" y="408" width="1" height="1" fill="#737375"/>
<rect x="583" y="409" width="5" height="14" fill="#14532d"/>
<rect x="584" y="410" width="3" height="12" fill="#4caf50"/>
<rect x="592" y="393" width="1" height="7" fill="#737375"/>
<rect x="592" y="410" width="1" height="5" fill="#737375"/>
<rect x="590" y="400" width="5" height="10" fill="#14532d"/>
<rect x="591" y="401" width="3" height="8" fill="#4caf50"/>
<rect x="598" y="390" width="1" height="10" fill="#737375"/>
<rect x="596" y="400" width="5" height="12" fill="#5c0f0f"/>
<rect x="597" y="401" width="3" height="10" fill="#e05a46"/>
<rect x="604" y="402" width="1" height="9" fill="#737375"/>
<rect x="604" y="415" width="1" height="3" fill="#737375"/>
<rect x="602" y="411" width="5" height="4" fill="#5c0f0f"/>
<rect x="603" y="412" width="3" height="2" fill="#e05a46"/>
<rect x="609" y="414" width="5" height="1" fill="#14532d"/>
<rect x="617" y="398" width="1" height="16" fill="#737375"/>
<rect x="617" y="418" width="1" height="2" fill="#737375"/>
<rect x="615" y="414" width="5" height="4" fill="#5c0f0f"/>
<rect x="616" y="415" width="3" height="2" fill="#e05a46"/>
<rect x="624" y="411" width="1" height="6" fill="#737375"/>
<rect x="624" y="435" width="1" height="8" fill="#737375"/>
<rect x="622" y="417" width="5" height="18" fill="#5c0f0f"/>
<rect x="623" y="418" width="3" height="16" fill="#e05a46"/>
<rect x="630" y="425" width="1" height="7" fill="#737375"/>
<rect x="630" y="433" width="1" height="5" fill="#737375"/>
<rect x="628" y="432" width="5" height="1" fill="#14532d"/>
<rect x="637" y="412" width="1" height="18" fill="#737375"/>
<rect x="637" y="433" width="1" height="16" fill="#737375"/>
<rect x="635" y="430" width="5" height="3" fill="#14532d"/>
<rect x="636" y="431" width="3" height="1" fill="#4caf50"/>
<rect x="643" y="429" width="1" height="1" fill="#737375"/>
<rect x="643" y="447" width="1" height="9" fill="#737375"/>
<rect x="641" y="430" width="5" height="17" fill="#5c0f0f"/>
<rect x="642" y="431" width="3" height="15" fill="#e05a46"/>
<rect x="650" y="433" width="1" height="11" fill="#737375"/>
<rect x="650" y="447" width="1" height="1" fill="#737375"/>
<rect x="648" y="444" width="5" height="3" fill="#14532d"/>
<rect x="649" y="445" width="3" height="1" fill="#4caf50"/>
<rect x="656" y="435" width="1" height="9" fill="#737375"/>
<rect x="656" y="451" width="1" height="2" fill="#737375"/>
<rect x="654" y="444" width="5" height="7" fill="#5c0f0f"/>
<rect x="655" y="445" width="3" height="5" fill="#e05a46"/>
<rect x="663" y="429" width="1" height="16" fill="#737375"/>
<rect x="663" y="451" width="1" height="9" fill="#737375"/>
<rect x="661" y="445" width="5" height="6" fill="#14532d"/>
<rect x="662" y="446" width="3" height="4" fill="#4caf50"/>
<rect x="669" y="414" width="1" height="12" fill="#737375"/>
<rect x="667" y="426" width="5" height="21" fill="#14532d"/>
<rect x="668" y="427" width="3" height="19" fill="#4caf50"/>
<rect x="676" y="417" width="1" height="5" fill="#737375"/>
<rect x="676" y="427" width="1" height="2" fill="#737375"/>
<rect x="674" y="422" width="5" height="5" fill="#14532d"/>
<rect x="675" y="423" width="3" height="3" fill="#4caf50"/>
<rect x="682" y="420" width="1" height="1" fill="#737375"/>
<rect x="682" y="447" width="1" height="2" fill="#737375"/>
<rect x="680" y="421" width="5" height="26" fill="#5c0f0f"/>
<rect x="681" y="422" width="3" height="24" fill="#e05a46"/>
<rect x="689" y="441" width="1" height="5" fill="#737375"/>
<rect x="689" y="468" width="1" height="2" fill="#737375"/>
<rect x="687" y="446" width="5" height="22" fill="#5c0f0f"/>
<rect x="688" y="447" width="3" height="20" fill="#e05a46"/>
<rect x="693" y="451" width="5" height="16" fill="#14532d"/>
<rect x="694" y="452" width="3" height="14" fill="#4caf50"/>
<rect x="702" y="435" width="1" height="10" fill="#737375"/>
<rect x="702" y="451" width="1" height="2" fill="#737375"/>
<rect x="700" y="445" width="5" height="6" fill="#14532d"/>
<rect x="701" y="446" width="3" height="4" fill="#4caf50"/>
<rect x="708" y="442" width="1" height="3" fill="#737375"/>
<rect x="708" y="453" width="1" height="4" fill="#737375"/>
<rect x="706" y="445" width="5" height="8" fill="#5c0f0f"/>
<rect x="707" y="446" width="3" height="6" fill="#e05a46"/>
<rect x="715" y="437" width="1" height="8" fill="#737375"/>
<rect x="715" y="453" width="1" height="1" fill="#737375"/>
<rect x="713" y="445" width="5" height="8" fill="#14532d"/>
<rect x="714" y="446" width="3" height="6" fill="#4caf50"/>
<rect x="721" y="438" width="1" height="7" fill="#737375"/>
<rect x="721" y="460" width="1" height="2" fill="#737375"/>
<rect x="719" y="445" width="5" height="15" fill="#5c0f0f"/>
<rect x="720" y="446" width="3" height="13" fill="#e05a46"/>
<rect x="727" y="449" width="1" height="4" fill="#737375"/>
<rect x="727" y="460" width="1" height="3" fill="#737375"/>
<rect x="725" y="453" width="5" height="7" fill="#14532d"/>
<rect x="726" y="454" width="3" height="5" fill="#4caf50"/>
<rect x="734" y="447" width="1" height="6" fill="#737375"/>
<rect x="734" y="456" width="1" height="1" fill="#737375"/>
<rect x="732" y="453" width="5" height="3" fill="#5c0f0f"/>
<rect x="733" y="454" width="3" height="1" fill="#e05a46"/>
<rect x="740" y="437" width="1" height="4" fill="#737375"/>
<rect x="738" y="441" width="5" height="15" fill="#14532d"/>
<rect x="739" y="442" width="3" height="13" fill="#4caf50"/>
<rect x="747" y="427" width="1" height="11" fill="#737375"/>
<rect x="747" y="443" width="1" height="2" fill="#737375"/>
<rect x="745" y="438" width="5" height="5" fill="#14532d"/>
<rect x="746" y="439" width="3" height="3" fill="#4caf50"/>
<rect x="753" y="420" width="1" height="16" fill="#737375"/>
<rect x="753" y="439" width="1" height="4" fill="#737375"/>
<rect x="751" y="436" width="5" height="3" fill="#14532d"/>
<rect x="752" y="437" width="3" height="1" fill="#4caf50"/>
<rect x="760" y="411" width="1" height="10" fill="#737375"/>
<rect x="760" y="436" width="1" height="8" fill="#737375"/>
<rect x="758" y="421" width="5" height="15" fill="#14532d"/>
<rect x="759" y="422" width="3" height="13" fill="#4caf50"/>
<rect x="766" y="418" width="1" height="3" fill="#737375"/>
<rect x="766" y="436" width="1" height="10" fill="#737375"/>
<rect x="764" y="421" width="5" height="15" fill="#5c0f0f"/>
<rect x="765" y="422" width="3" height="13" fill="#e05a46"/>
<rect x="773" y="433" width="1" height="2" fill="#737375"/>
<rect x="773" y="450" width="1" height="8" fill="#737375"/>
<rect x="771" y="435" width="5" height="15" fill="#5c0f0f"/>
<rect x="772" y="436" width="3" height="13" fill="#e05a46"/>
<rect x="779" y="436" width="1" height="3" fill="#737375"/>
<rect x="779" y="450" width="1" height="1" fill="#737375"/>
<rect x="777" y="439" width="5" height="11" fill="#14532d"/>
<rect x="778" y="440" width="3" height="9" fill="#4caf50"/>
<rect x="786" y="431" width="1" height="8" fill="#737375"/>
<rect x="786" y="440" width="1" height="3" fill="#737375"/>
<rect x="784" y="439" width="5" height="1" fill="#5c0f0f"/>
<rect x="792" y="436" width="1" height="4" fill="#737375"/>
<rect x="792" y="441" width="1" height="12" fill="#737375"/>
<rect x="790" y="440" width="5" height="1" fill="#5c0f0f"/>
<rect x="799" y="437" width="1" height="4" fill="#737375"/>
<rect x="799" y="451" width="1" height="2" fill="#737375"/>
<rect x="797" y="441" width="5" height="10" fill="#5c0f0f"/>
<rect x="798" y="442" width="3" height="8" fill="#e05a46"/>
<rect x="805" y="446" width="1" height="3" fill="#737375"/>
<rect x="805" y="455" width="1" height="6" fill="#737375"/>
<rect x="803" y="449" width="5" height="6" fill="#5c0f0f"/>
<rect x="804" y="450" width="3" height="4" fill="#e05a46"/>
<rect x="812" y="441" width="1" height="14" fill="#737375"/>
<rect x="812" y="480" width="1" height="1" fill="#737375"/>
<rect x="810" y="455" width="5" height="25" fill="#5c0f0f"/>
<rect x="811" y="456" width="3" height="23" fill="#e05a46"/>
<rect x="818" y="476" width="1" height="3" fill="#737375"/>
<rect x="818" y="481" width="1" height="6" fill="#737375"/>
<rect x="816" y="479" width="5" height="2" fill="#5c0f0f"/>
<rect x="825" y="464" width="1" height="4" fill="#737375"/>
<rect x="823" y="468" width="5" height="13" fill="#14532d"/>
<rect x="824" y="469" width="3" height="11" fill="#4caf50"/>
<rect x="831" y="458" width="1" height="2" fill="#737375"/>
<rect x="831" y="469" width="1" height="8" fill="#737375"/>
<rect x="829" y="460" width="5" height="9" fill="#14532d"/>
<rect x="830" y="461" width="3" height="7" fill="#4caf50"/>
<rect x="838" y="451" width="1" height="4" fill="#737375"/>
<rect x="838" y="461" width="1" height="1" fill="#737375"/>
<rect x="836" y="455" width="5" height="6" fill="#14532d"/>
<rect x="837" y="456" width="3" height="4" fill="#4caf50"/>
<rect x="844" y="443" width="1" height="7" fill="#737375"/>
<rect x="844" y="456" width="1" height="3" fill="#737375"/>
<rect x="842" y="450" width="5" height="6" fill="#14532d"/>
<rect x="843" y="451" width="3" height="4" fill="#4caf50"/>
<rect x="851" y="442" width="1" height="6" fill="#737375"/>
<rect x="851" y="451" width="1" height="2" fill="#737375"/>
<rect x="849" y="448" width="5" height="3" fill="#14532d"/>
<rect x="850" y="449" width="3" height="1" fill="#4caf50"/>
<rect x="857" y="440" width="1" height="8" fill="#737375"/>
<rect x="857" y="451" width="1" height="3" fill="#737375"/>
<rect x="855" y="448" width="5" height="3" fill="#5c0f0f"/>
<rect x="856" y="449" width="3" height="1" fill="#e05a46"/>
<rect x="863" y="433" width="1" height="6" fill="#737375"/>
<rect x="863" y="451" width="1" height="6" fill="#737375"/>
<rect x="861" y="439" width="5" height="12" fill="#14532d"/>
<rect x="862" y="440" width="3" height="10" fill="#4caf50"/>
<rect x="870" y="438" width="1" height="1" fill="#737375"/>
<rect x="870" y="444" width="1" height="5" fill="#737375"/>
<rect x="868" y="439" width="5" height="5" fill="#5c0f0f"/>
<rect x="869" y="440" width="3" height="3" fill="#e05a46"/>
<rect x="876" y="435" width="1" height="8" fill="#737375"/>
<rect x="874" y="443" width="5" height="1" fill="#5c0f0f"/>
<rect x="883" y="437" width="1" height="4" fill="#737375"/>
<rect x="883" y="444" width="1" height="5" fill="#737375"/>
<rect x="881" y="441" width="5" height="3" fill="#14532d"/>
<rect x="882" y="442" width="3" height="1" fill="#4caf50"/>
<rect x="889" y="425" width="1" height="6" fill="#737375"/>
<rect x="889" y="441" width="1" height="5" fill="#737375"/>
<rect x="887" y="431" width="5" height="10" fill="#14532d"/>
<rect x="888" y="432" width="3" height="8" fill="#4caf50"/>
<rect x="896" y="390" width="1" height="5" fill="#737375"/>
<rect x="896" y="432" width="1" height="4" fill="#737375"/>
<rect x="894" y="395" width="5" height="37" fill="#14532d"/>
<rect x="895" y="396" width="3" height="35" fill="#4caf50"/>
<rect x="902" y="360" width="1" height="5" fill="#737375"/>
<rect x="902" y="396" width="1" height="2" fill="#737375"/>
<rect x="900" y="365" width="5" height="31" fill="#14532d"/>
<rect x="901" y="366" width="3" height="29" fill="#4caf50"/>
<rect x="909" y="340" width="1" height="13" fill="#737375"/>
<rect x="909" y="366" width="1" height="3" fill="#737375"/>
<rect x="907" y="353" width="5" height="13" fill="#14532d"/>
<rect x="908" y="354" width="3" height="11" fill="#4caf50"/>
<rect x="915" y="330" width="1" height="4" fill="#737375"/>
<rect x="915" y="353" width="1" height="4" fill="#737375"/>
<rect x="913" y="334" width="5" height="19" fill="#14532d"/>
<rect x="914" y="335" width="3" height="17" fill="#4caf50"/>
<rect x="922" y="318" width="1" height="5" fill="#737375"/>
<rect x="920" y="323" width="5" height="11" fill="#14532d"/>
<rect x="921" y="324" width="3" height="9" fill="#4caf50"/>
<rect x="928" y="289" width="1" height="16" fill="#737375"/>
<rect x="928" y="323" width="1" height="5" fill="#737375"/>
<rect x="926" y="305" width="5" height="18" fill="#14532d"/>
<rect x="927" y="306" width="3" height="16" fill="#4caf50"/>
<rect x="935" y="296" width="1" height="6" fill="#737375"/>
<rect x="935" y="306" width="1" height="3" fill="#737375"/>
<rect x="933" y="302" width="5" height="4" fill="#14532d"/>
<rect x="934" y="303" width="3" height="2" fill="#4caf50"/>
<rect x="941" y="325" width="1" height="6" fill="#737375"/>
<rect x="939" y="302" width="5" height="23" fill="#5c0f0f"/>
<rect x="940" y="303" width="3" height="21" fill="#e05a46"/>
<rect x="948" y="305" width="1" height="4" fill="#737375"/>
<rect x="948" y="325" width="1" height="1" fill="#737375"/>
<rect x="946" y="309" width="5" height="16" fill="#14532d"/>
<rect x="947" y="310" width="3" height="14" fill="#4caf50"/>
<rect x="954" y="307" width="1" height="3" fill="#737375"/>
<rect x="954" y="321" width="1" height="8" fill="#737375"/>
<rect x="952" y="310" width="5" height="11" fill="#5c0f0f"/>
<rect x="953" y="311" width="3" height="9" fill="#e05a46"/>
<rect x="961" y="310" width="1" height="12" fill="#737375"/>
<rect x="959" y="322" width="5" height="6" fill="#5c0f0f"/>
<rect x="960" y="323" width="3" height="4" fill="#e05a46"/>
<rect x="967" y="320" width="1" height="4" fill="#737375"/>
<rect x="967" y="328" width="1" height="8" fill="#737375"/>
<rect x="965" y="324" width="5" height="4" fill="#14532d"/>
<rect x="966" y="325" width="3" height="2" fill="#4caf50"/>
<rect x="974" y="320" width="1" height="4" fill="#737375"/>
<rect x="974" y="325" width="1" height="10" fill="#737375"/>
<rect x="972" y="324" width="5" height="1" fill="#5c0f0f"/>
<rect x="980" y="296" width="1" height="4" fill="#737375"/>
<rect x="980" y="325" width="1" height="7" fill="#737375"/>
<rect x="978" y="300" width="5" height="25" fill="#14532d"/>
<rect x="979" y="301" width="3" height="23" fill="#4caf50"/>
<rect x="986" y="264" width="1" height="34" fill="#737375"/>
<rect x="986" y="304" width="1" height="13" fill="#737375"/>
<rect x="984" y="298" width="5" height="6" fill="#5c0f0f"/>
<rect x="985" y="299" width="3" height="4" fill="#e05a46"/>
<rect x="993" y="298" width="1" height="5" fill="#737375"/>
<rect x="993" y="318" width="1" height="7" fill="#737375"/>
<rect x="991" y="303" width="5" height="15" fill="#5c0f0f"/>
<rect x="992" y="304" width="3" height="13" fill="#e05a46"/>
<rect x="999" y="303" width="1" height="9" fill="#737375"/>
<rect x="997" y="312" width="5" height="6" fill="#14532d"/>
<rect x="998" y="313" width="3" height="4" fill="#4caf50"/>
<rect x="1006" y="285" width="1" height="21" fill="#737375"/>
<rect x="1006" y="312" width="1" height="4" fill="#737375"/>
<rect x="1004" y="306" width="5" height="6" fill="#14532d"/>
<rect x="1005" y="307" width="3" height="4" fill="#4caf50"/>
<rect x="1012" y="288" width="1" height="3" fill="#737375"/>
<rect x="1012" y="306" width="1" height="4" fill="#737375"/>
<rect x="1010" y="291" width="5" height="15" fill="#14532d"/>
<rect x="1011" y="292" width="3" height="13" fill="#4caf50"/>
<rect x="1019" y="252" width="1" height="4" fill="#737375"/>
<rect x="1019" y="291" width="1" height="6" fill="#737375"/>
<rect x="1017" y="256" width="5" height="35" fill="#14532d"/>
<rect x="1018" y="257" width="3" height="33" fill="#4caf50"/>
<rect x="1023" y="254" width="5" height="1" fill="#14532d"/>
<rect x="1032" y="224" width="1" height="14" fill="#737375"/>
<rect x="1032" y="256" width="1" height="3" fill="#737375"/>
<rect x="1030" y="238" width="5" height="18" fill="#14532d"/>
<rect x="1031" y="239" width="3" height="16" fill="#4caf50"/>
<rect x="1038" y="210" width="1" height="2" fill="#737375"/>
<rect x="1038" y="239" width="1" height="3" fill="#737375"/>
<rect x="1036" y="212" width="5" height="27" fill="#14532d"/>
<rect x="1037" y="213" width="3" height="25" fill="#4caf50"/>
<rect x="1045" y="191" width="1" height="2" fill="#737375"/>
<rect x="1045" y="211" width="1" height="13" fill="#737375"/>
<rect x="1043" y="193" width="5" height="18" fill="#14532d"/>
<rect x="1044" y="194" width="3" height="16" fill="#4caf50"/>
<rect x="1051" y="187" width="1" height="5" fill="#737375"/>
<rect x="1051" y="202" width="1" height="9" fill="#737375"/>
<rect x="1049" y="192" width="5" height="10" fill="#5c0f0f"/>
<rect x="1050" y="193" width="3" height="8" fill="#e05a46"/>
<rect x="1058" y="164" width="1" height="1" fill="#737375"/>
<rect x="1058" y="201" width="1" height="21" fill="#737375"/>
<rect x="1056" y="165" width="5" height="36" fill="#14532d"/>
<rect x="1057" y="166" width="3" height="34" fill="#4caf50"/>
<rect x="1064" y="142" width="1" height="14" fill="#737375"/>
<rect x="1064" y="166" width="1" height="23" fill="#737375"/>
<rect x="1062" y="156" width="5" height="10" fill="#14532d"/>
<rect x="1063" y="157" width="3" height="8" fill="#4caf50"/>
<rect x="1071" y="131" width="1" height="12" fill="#737375"/>
<rect x="1071" y="157" width="1" height="1" fill="#737375"/>
<rect x="1069" y="143" width="5" height="14" fill="#14532d"/>
<rect x="1070" y="144" width="3" height="12" fill="#4caf50"/>
<rect x="1077" y="136" width="1" height="7" fill="#737375"/>
<rect x="1077" y="163" width="1" height="11" fill="#737375"/>
<rect x="1075" y="143" width="5" height="20" fill="#5c0f0f"/>
<rect x="1076" y="144" width="3" height="18" fill="#e05a46"/>
<rect x="1084" y="120" width="1" height="5" fill="#737375"/>
<rect x="1084" y="163" width="1" height="5" fill="#737375"/>
<rect x="1082" y="125" width="5" height="38" fill="#14532d"/>
<rect x="1083" y="126" width="3" height="36" fill="#4caf50"/>
<rect x="1090" y="69" width="1" height="56" fill="#737375"/>
<rect x="1090" y="153" width="1" height="8" fill="#737375"/>
<rect x="1088" y="125" width="5" height="28" fill="#5c0f0f"/>
<rect x="1089" y="126" width="3" height="26" fill="#e05a46"/>
<rect x="1097" y="111" width="1" height="4" fill="#737375"/>
<rect x="1097" y="153" width="1" height="16" fill="#737375"/>
<rect x="1095" y="115" width="5" height="38" fill="#14532d"/>
<rect x="1096" y="116" width="3" height="36" fill="#4caf50"/>
<rect x="1103" y="101" width="1" height="14" fill="#737375"/>
<rect x="1103" y="116" width="1" height="17" fill="#737375"/>
<rect x="1101" y="115" width="5" height="1" fill="#14532d"/>
<rect x="1109" y="103" width="1" height="13" fill="#737375"/>
<rect x="1109" y="137" width="1" height="4" fill="#737375"/>
<rect x="1107" y="116" width="5" height="21" fill="#5c0f0f"/>
<rect x="1108" y="117" width="3" height="19" fill="#e05a46"/>
<rect x="1116" y="106" width="1" height="14" fill="#737375"/>
<rect x="1114" y="120" width="5" height="16" fill="#14532d"/>
<rect x="1115" y="121" width="3" height="14" fill="#4caf50"/>
<rect x="1122" y="82" width="1" height="25" fill="#737375"/>
<rect x="1122" y="120" width="1" height="4" fill="#737375"/>
<rect x="1120" y="107" width="5" height="13" fill="#14532d"/>
<rect x="1121" y="108" width="3" height="11" fill="#4caf50"/>
<rect x="1127" y="106" width="5" height="63" fill="#5c0f0f"/>
<rect x="1128" y="107" width="3" height="61" fill="#e05a46"/>
<rect x="1135" y="160" width="1" height="6" fill="#737375"/>
<rect x="1135" y="173" width="1" height="27" fill="#737375"/>
<rect x="1133" y="166" width="5" height="7" fill="#5c0f0f"/>
<rect x="1134" y="167" width="3" height="5" fill="#e05a46"/>
<rect x="1142" y="157" width="1" height="14" fill="#737375"/>
<rect x="1142" y="179" width="1" height="2" fill="#737375"/>
<rect x="1140" y="171" width="5" height="8" fill="#5c0f0f"/>
<rect x="1141" y="172" width="3" height="6" fill="#e05a46"/>
<rect x="1148" y="150" width="1" height="13" fill="#737375"/>
<rect x="1148" y="179" width="1" height="8" fill="#737375"/>
<rect x="1146" y="163" width="5" height="16" fill="#14532d"/>
<rect x="1147" y="164" width="3" height="14" fill="#4caf50"/>
<rect x="1155" y="143" width="1" height="14" fill="#737375"/>
<rect x="1155" y="163" width="1" height="5" fill="#737375"/>
<rect x="1153" y="157" width="5" height="6" fill="#14532d"/>
<rect x="1154" y="158" width="3" height="4" fill="#4caf50"/>
<rect x="1161" y="149" width="1" height="8" fill="#737375"/>
<rect x="1161" y="160" width="1" height="13" fill="#737375"/>
<rect x="1159" y="157" width="5" height="3" fill="#5c0f0f"/>
<rect x="1160" y="158" width="3" height="1" fill="#e05a46"/>
<rect x="1168" y="158" width="1" height="1" fill="#737375"/>
<rect x="1166" y="159" width="5" height="48" fill="#5c0f0f"/>
<rect x="1167" y="160" width="3" height="46" fill="#e05a46"/>
<rect x="1174" y="166" width="1" height="8" fill="#737375"/>
<rect x="1174" y="206" width="1" height="3" fill="#737375"/>
<rect x="1172" y="174" width="5" height="32" fill="#14532d"/>
<rect x="1173" y="175" width="3" height="30" fill="#4caf50"/>
<rect x="1181" y="168" width="1" height="6" fill="#737375"/>
<rect x="1181" y="191" width="1" height="15" fill="#737375"/>
<rect x="1179" y="174" width="5" height="17" fill="#5c0f0f"/>
<rect x="1180" y="175" width="3" height="15" fill="#e05a46"/>
<rect x="1187" y="173" width="1" height="16" fill="#737375"/>
<rect x="1187" y="191" width="1" height="22" fill="#737375"/>
<rect x="1185" y="189" width="5" height="2" fill="#5c0f0f"/>
<rect x="1194" y="162" width="1" height="6" fill="#737375"/>
<rect x="1194" y="191" width="1" height="9" fill="#737375"/>
<rect x="1192" y="168" width="5" height="23" fill="#14532d"/>
<rect x="1193" y="169" width="3" height="21" fill="#4caf50"/>
<rect x="1200" y="164" width="1" height="4" fill="#737375"/>
<rect x="1200" y="180" width="1" height="3" fill="#737375"/>
<rect x="1198" y="168" width="5" height="12" fill="#5c0f0f"/>
<rect x="1199" y="169" width="3" height="10" fill="#e05a46"/>
<rect x="1207" y="172" width="1" height="7" fill="#737375"/>
<rect x="1207" y="185" width="1" height="4" fill="#737375"/>
<rect x="1205" y="179" width="5" height="6" fill="#5c0f0f"/>
<rect x="1206" y="180" width="3" height="4" fill="#e05a46"/>
<rect x="1213" y="148" width="1" height="2" fill="#737375"/>
<rect x="1213" y="185" width="1" height="1" fill="#737375"/>
<rect x="1211" y="150" width="5" height="35" fill="#14532d"/>
<rect x="1212" y="151" width="3" height="33" fill="#4caf50"/>
<rect x="1220" y="119" width="1" height="17" fill="#737375"/>
<rect x="1220" y="150" width="1" height="2" fill="#737375"/>
<rect x="1218" y="136" width="5" height="14" fill="#14532d"/>
<rect x="1219" y="137" width="3" height="12" fill="#4caf50"/>
<rect x="1226" y="132" width="1" height="4" fill="#737375"/>
<rect x="1226" y="159" width="1" height="3" fill="#737375"/>
<rect x="1224" y="136" width="5" height="23" fill="#5c0f0f"/>
<rect x="1225" y="137" width="3" height="21" fill="#e05a46"/>
<rect x="1232" y="137" width="1" height="1" fill="#737375"/>
<rect x="1230" y="138" width="5" height="22" fill="#14532d"/>
<rect x="1231" y="139" width="3" height="20" fill="#4caf50"/>
<rect x="1239" y="108" width="1" height="4" fill="#737375"/>
<rect x="1239" y="140" width="1" height="4" fill="#737375"/>
<rect x="1237" y="112" width="5" height="28" fill="#14532d"/>
<rect x="1238" y="113" width="3" height="26" fill="#4caf50"/>
<rect x="1245" y="101" width="1" height="11" fill="#737375"/>
<rect x="1245" y="122" width="1" height="4" fill="#737375"/>
<rect x="1243" y="112" width="5" height="10" fill="#5c0f0f"/>
<rect x="1244" y="113" width="3" height="8" fill="#e05a46"/>
<rect x="1252" y="78" width="1" height="7" fill="#737375"/>
<rect x="1252" y="122" width="1" height="1" fill="#737375"/>
<rect x="1250" y="85" width="5" height="37" fill="#14532d"/>
<rect x="1251" y="86" width="3" height="35" fill="#4caf50"/>
<rect x="1258" y="52" width="1" height="24" fill="#737375"/>
<rect x="1258" y="87" width="1" height="5" fill="#737375"/>
<rect x="1256" y="76" width="5" height="11" fill="#14532d"/>
<rect x="1257" y="77" width="3" height="9" fill="#4caf50"/>
<rect x="1265" y="67" width="1" height="7" fill="#737375"/>
<rect x="1265" y="81" width="1" height="12" fill="#737375"/>
<rect x="1263" y="74" width="5" height="7" fill="#5c0f0f"/>
<rect x="1264" y="75" width="3" height="5" fill="#e05a46"/>
<rect x="1271" y="74" width="1" height="6" fill="#737375"/>
<rect x="1271" y="120" width="1" height="2" fill="#737375"/>
<rect x="1269" y="80" width="5" height="40" fill="#5c0f0f"/>
<rect x="1270" y="81" width="3" height="38" fill="#e05a46"/>
<rect x="1278" y="114" width="1" height="4" fill="#737375"/>
<rect x="1278" y="166" width="1" height="1" fill="#737375"/>
<rect x="1276" y="118" width="5" height="48" fill="#5c0f0f"/>
<rect x="1277" y="119" width="3" height="46" fill="#e05a46"/>
<rect x="1284" y="148" width="1" height="13" fill="#737375"/>
<rect x="1284" y="166" width="1" height="2" fill="#737375"/>
<rect x="1282" y="161" width="5" height="5" fill="#14532d"/>
<rect x="1283" y="162" width="3" height="3" fill="#4caf50"/>
<rect x="1291" y="138" width="1" height="7" fill="#737375"/>
<rect x="1289" y="145" width="5" height="17" fill="#14532d"/>
<rect x="1290" y="146" width="3" height="15" fill="#4caf50"/>
<rect x="1297" y="132" width="1" height="4" fill="#737375"/>
<rect x="1297" y="145" width="1" height="10" fill="#737375"/>
<rect x="1295" y="136" width="5" height="9" fill="#14532d"/>
<rect x="1296" y="137" width="3" height="7" fill="#4caf50"/>
<rect x="1304" y="134" width="1" height="2" fill="#737375"/>
<rect x="1304" y="157" width="1" height="3" fill="#737375"/>
<rect x="1302" y="136" width="5" height="21" fill="#5c0f0f"/>
<rect x="1303" y="137" width="3" height="19" fill="#e05a46"/>
<rect x="1310" y="144" width="1" height="7" fill="#737375"/>
<rect x="1310" y="157" width="1" height="14" fill="#737375"/>
<rect x="1308" y="151" width="5" height="6" fill="#14532d"/>
<rect x="1309" y="152" width="3" height="4" fill="#4caf50"/>
<rect x="1317" y="136" width="1" height="15" fill="#737375"/>
<rect x="1317" y="168" width="1" height="5" fill="#737375"/>
<rect x="1315" y="151" width="5" height="17" fill="#5c0f0f"/>
<rect x="1316" y="152" width="3" height="15" fill="#e05a46"/>
<rect x="1323" y="141" width="1" height="4" fill="#737375"/>
<rect x="1323" y="168" width="1" height="10" fill="#737375"/>
<rect x="1321" y="145" width="5" height="23" fill="#14532d"/>
<rect x="1322" y="146" width="3" height="21" fill="#4caf50"/>
<rect x="1330" y="143" width="1" height="2" fill="#737375"/>
<rect x="1330" y="169" width="1" height="9" fill="#737375"/>
<rect x="1328" y="145" width="5" height="24" fill="#5c0f0f"/>
<rect x="1329" y="146" width="3" height="22" fill="#e05a46"/>
<rect x="1336" y="139" width="1" height="1" fill="#737375"/>
<rect x="1334" y="140" width="5" height="28" fill="#14532d"/>
<rect x="1335" y="141" width="3" height="26" fill="#4caf50"/>
<rect x="1343" y="119" width="1" height="3" fill="#737375"/>
<rect x="1343" y="141" width="1" height="1" fill="#737375"/>
<rect x="1341" y="122" width="5" height="19" fill="#14532d"/>
<rect x="1342" y="123" width="3" height="17" fill="#4caf50"/>
<rect x="1349" y="110" width="1" height="11" fill="#737375"/>
<rect x="1349" y="198" width="1" height="6" fill="#737375"/>
<rect x="1347" y="121" width="5" height="77" fill="#5c0f0f"/>
<rect x="1348" y="122" width="3" height="75" fill="#e05a46"/>
<rect x="1356" y="179" width="1" height="3" fill="#737375"/>
<rect x="1356" y="198" width="1" height="6" fill="#737375"/>
<rect x="1354" y="182" width="5" height="16" fill="#14532d"/>
<rect x="1355" y="183" width="3" height="14" fill="#4caf50"/>
<rect x="1362" y="174" width="1" height="3" fill="#737375"/>
<rect x="1362" y="182" width="1" height="12" fill="#737375"/>
<rect x="1360" y="177" width="5" height="5" fill="#14532d"/>
<rect x="1361" y="178" width="3" height="3" fill="#4caf50"/>
<rect x="1368" y="153" width="1" height="16" fill="#737375"/>
<rect x="1368" y="178" width="1" height="4" fill="#737375"/>
<rect x="1366" y="169" width="5" height="9" fill="#14532d"/>
<rect x="1367" y="170" width="3" height="7" fill="#4caf50"/>
<rect x="1375" y="167" width="1" height="2" fill="#737375"/>
<rect x="1375" y="192" width="1" height="4" fill="#737375"/>
<rect x="1373" y="169" width="5" height="23" fill="#5c0f0f"/>
<rect x="1374" y="170" width="3" height="21" fill="#e05a46"/>
<rect x="1381" y="158" width="1" height="4" fill="#737375"/>
<rect x="1381" y="190" width="1" height="1" fill="#737375"/>
<rect x="1379" y="162" width="5" height="28" fill="#14532d"/>
<rect x="1380" y="163" width="3" height="26" fill="#4caf50"/>
<rect x="1388" y="178" width="1" height="5" fill="#737375"/>
<rect x="1386" y="162" width="5" height="16" fill="#5c0f0f"/>
<rect x="1387" y="163" width="3" height="14" fill="#e05a46"/>
<rect x="1394" y="161" width="1" height="4" fill="#737375"/>
<rect x="1394" y="176" width="1" height="10" fill="#737375"/>
<rect x="1392" y="165" width="5" height="11" fill="#14532d"/>
<rect x="1393" y="166" width="3" height="9" fill="#4caf50"/>
<rect x="1401" y="160" width="1" height="5" fill="#737375"/>
<rect x="1401" y="166" width="1" height="4" fill="#737375"/>
<rect x="1399" y="165" width="5" height="1" fill="#5c0f0f"/>
<rect x="1407" y="131" width="1" height="5" fill="#737375"/>
<rect x="1405" y="136" width="5" height="31" fill="#14532d"/>
<rect x="1406" y="137" width="3" height="29" fill="#4caf50"/>
<rect x="1414" y="128" width="1" height="2" fill="#737375"/>
<rect x="1414" y="136" width="1" height="5" fill="#737375"/>
<rect x="1412" y="130" width="5" height="6" fill="#14532d"/>
<rect x="1413" y="131" width="3" height="4" fill="#4caf50"/>
</g>
<line x1="2" x2="1466" y1="130.5" y2="130.5" stroke="#4caf50" stroke-width="1" stroke-dasharray="1 2" shape-rendering="crispEdges"/>
<rect x="927.4" y="289.6" width="4" height="4" fill="#000" transform="rotate(31.1 929.4 291.6)"/>
<rect x="937.8" y="295.9" width="4" height="4" fill="#000" transform="rotate(31.1 939.8 297.9)"/>
<rect x="948.2" y="302.1" width="4" height="4" fill="#000" transform="rotate(31.1 950.2 304.1)"/>
<rect x="958.6" y="308.4" width="4" height="4" fill="#000" transform="rotate(31.1 960.6 310.4)"/>
<rect x="969.0" y="314.7" width="4" height="4" fill="#000" transform="rotate(31.1 971.0 316.7)"/>
<rect x="921.7" y="335.9" width="4" height="4" fill="#000" transform="rotate(-14.6 923.7 337.9)"/>
<rect x="933.2" y="332.9" width="4" height="4" fill="#000" transform="rotate(-14.6 935.2 334.9)"/>
<rect x="944.7" y="329.9" width="4" height="4" fill="#000" transform="rotate(-14.6 946.7 331.9)"/>
<rect x="956.2" y="326.9" width="4" height="4" fill="#000" transform="rotate(-14.6 958.2 328.9)"/>
<rect x="967.7" y="323.9" width="4" height="4" fill="#000" transform="rotate(-14.6 969.7 325.9)"/>
</g>
<polyline points="2.1,700.5 7.8,699.9 14.4,701.0 20.9,700.7 27.4,701.0 36.6,700.2 45.7,701.5 53.5,701.3 62.7,702.6 73.1,703.3 83.6,704.6 96.6,704.9 112.3,706.0 120.1,705.4 131.9,706.7 143.6,705.7 156.7,706.7 163.2,706.2 171.0,703.6 177.5,702.3 185.4,699.9 190.6,699.2 198.4,699.2 208.9,699.9 216.7,698.6 223.2,697.3 229.8,698.1 241.5,698.4 248.0,692.6 261.1,692.6 271.5,690.0 287.2,689.5 300.3,690.0 313.3,689.0 319.8,689.8 331.6,689.2 339.4,690.8 352.5,691.6 370.8,691.3 380.0,691.3 390.4,690.5 403.5,689.8 416.6,690.8 429.6,690.3 440.1,692.6 449.2,693.2 455.7,692.4 468.8,693.4 474.5,691.3 481.0,681.9 487.0,681.7 500.1,683.2 510.5,682.5 519.7,683.0 527.5,681.1 539.3,681.7 552.3,683.2 565.4,685.1 573.2,685.6 579.7,687.9 588.9,688.7 601.9,689.2 611.1,692.1 617.6,691.9 624.1,690.8 630.7,691.3 641.1,689.5 654.2,690.3 668.5,688.2 675.0,689.2 688.1,687.9 701.1,689.2 711.6,690.5 722.0,690.5 732.5,692.1 745.5,692.6 756.0,691.9 760.0,691.3 771.7,690.0 786.1,691.9 804.4,693.4 811.4,691.3 820.1,692.4 830.5,692.9 843.6,694.5 856.6,696.0 863.1,695.5 869.7,696.0 881.4,698.1 888.7,697.6 895.8,693.9 902.3,691.9 914.0,690.5 923.2,690.3 928.4,688.7 934.9,689.5 942.8,688.5 953.2,688.7 966.3,690.0 974.1,691.1 979.3,689.5 985.8,686.1 992.4,685.8 998.9,686.6 1012.0,686.1 1018.5,684.5 1025.0,686.6 1032.8,685.6 1043.3,684.5 1051.1,684.3 1057.7,681.7 1064.2,679.8 1072.0,680.1 1083.8,678.3 1090.3,673.8 1096.8,672.3 1100.0,672.3 1115.7,673.1 1122.2,672.5 1130.0,671.0 1135.2,671.0 1147.0,672.0 1160.1,673.3 1167.9,672.5 1178.3,672.3 1192.7,672.0 1204.4,674.4 1217.5,674.4 1230.5,675.4 1244.9,675.9 1256.7,674.9 1267.1,675.1 1277.5,673.3 1288.0,674.6 1298.4,675.9 1310.2,677.0 1321.9,676.4 1332.4,676.4 1342.8,677.5 1348.8,672.5 1361.1,674.1 1371.5,675.1 1382.0,675.4 1392.4,676.7 1400.3,678.3 1406.8,678.0 1413.8,679.6" fill="none" stroke="#c0392b" stroke-width="1.1" stroke-linejoin="round" stroke-linecap="round"/>
<polyline points="2.1,772.8 9.1,765.7 15.1,763.1 21.7,763.9 27.4,760.5 33.9,752.7 41.3,743.0 53.5,744.1 60.8,745.4 67.4,751.9 73.9,758.2 79.6,759.0 92.7,757.4 99.2,763.1 105.7,767.0 111.7,769.4 118.8,761.8 125.3,754.5 137.9,751.9 144.9,765.0 150.9,763.7 158.0,768.4 164.5,782.7 171.0,795.8 177.0,799.2 184.1,794.5 190.1,795.2 195.8,790.5 203.1,784.0 210.2,780.1 216.2,776.2 223.2,769.1 229.8,766.5 236.3,763.7 242.3,762.3 248.0,753.2 254.6,750.6 261.1,749.3 267.6,744.3 274.2,740.4 280.7,738.9 287.2,743.0 294.5,746.2 301.6,746.9 306.8,747.5 313.3,746.7 320.6,748.0 326.4,750.1 332.9,752.2 339.4,752.2 346.0,751.4 352.5,754.5 359.0,759.2 365.5,763.7 370.8,765.7 377.3,773.1 383.9,776.7 390.4,770.2 397.0,767.6 410.0,754.5 416.6,759.2 423.1,748.8 436.1,751.4 442.7,748.0 449.2,741.5 455.7,734.4 462.2,734.4 468.8,740.2 475.3,737.0 481.0,739.6 487.8,753.0 501.4,753.2 507.9,760.0 513.9,767.6 520.2,770.2 526.7,762.3 533.3,752.7 539.8,757.1 546.3,758.4 552.8,754.0 559.4,755.3 565.9,752.7 572.4,745.4 579.0,748.3 585.5,744.3 592.0,741.5 598.5,744.9 604.5,748.3 611.1,749.0 617.1,749.8 624.1,758.2 630.7,759.2 637.2,759.5 643.2,767.8 649.7,769.1 656.2,773.1 663.3,771.7 669.3,761.8 675.8,758.4 682.3,771.5 688.9,784.0 695.4,778.8 701.9,771.0 708.5,773.1 715.0,769.1 721.5,772.8 728.0,773.3 734.3,771.7 740.8,763.7 747.4,754.5 753.9,749.6 759.9,743.0 766.5,750.6 773.1,765.0 779.6,760.0 786.1,756.6 792.1,762.3 798.6,765.0 805.2,772.8 811.4,784.0 818.0,794.5 824.5,782.7 831.0,774.1 837.5,767.0 843.6,762.3 850.1,760.0 856.6,759.7 863.1,756.6 869.7,756.6 876.2,755.0 882.7,754.8 889.2,746.7 895.8,725.3 902.3,715.6 908.8,720.8 915.4,729.2 921.9,734.4 928.4,737.5 934.9,740.9 941.5,746.2 948.0,747.5 954.5,750.1 961.0,751.4 967.6,753.0 974.1,753.5 980.6,750.9 985.1,749.3 992.4,753.5 998.9,753.5 1005.4,751.6 1012.0,749.6 1018.5,737.5 1025.0,731.3 1032.8,729.7 1038.1,730.0 1044.6,732.1 1051.1,737.8 1057.7,738.9 1064.2,739.4 1070.7,740.2 1077.2,744.6 1083.8,744.1 1090.3,744.6 1096.8,746.7 1100.0,746.2 1103.9,746.4 1110.4,749.0 1115.7,749.0 1122.2,748.0 1128.7,754.5 1135.2,761.3 1141.8,761.8 1148.3,761.8 1154.8,759.7 1161.4,762.6 1167.9,774.9 1173.9,773.1 1180.4,775.4 1186.9,777.2 1193.5,770.2 1200.0,768.9 1206.5,770.4 1213.1,761.8 1220.1,752.2 1226.1,757.4 1232.6,753.5 1239.2,743.8 1245.2,741.7 1252.2,733.1 1258.0,731.5 1264.5,737.8 1271.0,748.8 1277.5,761.8 1284.1,764.4 1290.6,761.8 1297.1,759.7 1303.7,763.1 1310.2,765.7 1316.7,768.4 1323.2,767.0 1329.8,771.0 1336.3,765.7 1342.8,758.7 1348.0,773.6 1355.4,779.6 1361.9,776.2 1368.4,771.0 1374.9,774.9 1381.5,770.2 1388.0,771.0 1394.5,768.4 1401.0,763.1 1406.8,748.8 1413.8,743.0" fill="none" stroke="#2962ff" stroke-width="1.1" stroke-linejoin="round" stroke-linecap="round"/>
<rect x="1466" y="4" width="1" height="829" fill="#4a4a4f" shape-rendering="crispEdges"/>
<rect x="2" y="805" width="1528" height="1" fill="#4a4a4f" shape-rendering="crispEdges"/>
<text x="1474.5" y="661.8" font-family="Liberation Sans, sans-serif" font-size="12" fill="#6e6e70" font-weight="normal" text-anchor="start" textLength="46" lengthAdjust="spacingAndGlyphs" >1,800.00</text>
<text x="1474.5" y="623.8" font-family="Liberation Sans, sans-serif" font-size="12" fill="#6e6e70" font-weight="normal" text-anchor="start" textLength="46" lengthAdjust="spacingAndGlyphs" >1,840.00</text>
<text x="1474.5" y="586.8" font-family="Liberation Sans, sans-serif" font-size="12" fill="#6e6e70" font-weight="normal" text-anchor="start" textLength="46" lengthAdjust="spacingAndGlyphs" >1,880.00</text>
<text x="1474.5" y="549.8" font-family="Liberation Sans, sans-serif" font-size="12" fill="#6e6e70" font-weight="normal" text-anchor="start" textLength="46" lengthAdjust="spacingAndGlyphs" >1,920.00</text>
<text x="1474.5" y="511.8" font-family="Liberation Sans, sans-serif" font-size="12" fill="#6e6e70" font-weight="normal" text-anchor="start" textLength="46" lengthAdjust="spacingAndGlyphs" >1,960.00</text>
<text x="1474.5" y="474.8" font-family="Liberation Sans, sans-serif" font-size="12" fill="#6e6e70" font-weight="normal" text-anchor="start" textLength="46" lengthAdjust="spacingAndGlyphs" >2,000.00</text>
<text x="1474.5" y="437.8" font-family="Liberation Sans, sans-serif" font-size="12" fill="#6e6e70" font-weight="normal" text-anchor="start" textLength="46" lengthAdjust="spacingAndGlyphs" >2,040.00</text>
<text x="1474.5" y="399.8" font-family="Liberation Sans, sans-serif" font-size="12" fill="#6e6e70" font-weight="normal" text-anchor="start" textLength="46" lengthAdjust="spacingAndGlyphs" >2,080.00</text>
<text x="1474.5" y="362.8" font-family="Liberation Sans, sans-serif" font-size="12" fill="#6e6e70" font-weight="normal" text-anchor="start" textLength="46" lengthAdjust="spacingAndGlyphs" >2,120.00</text>
<text x="1474.5" y="325.8" font-family="Liberation Sans, sans-serif" font-size="12" fill="#6e6e70" font-weight="normal" text-anchor="start" textLength="46" lengthAdjust="spacingAndGlyphs" >2,160.00</text>
<text x="1474.5" y="288.8" font-family="Liberation Sans, sans-serif" font-size="12" fill="#6e6e70" font-weight="normal" text-anchor="start" textLength="46" lengthAdjust="spacingAndGlyphs" >2,200.00</text>
<text x="1474.5" y="250.8" font-family="Liberation Sans, sans-serif" font-size="12" fill="#6e6e70" font-weight="normal" text-anchor="start" textLength="46" lengthAdjust="spacingAndGlyphs" >2,240.00</text>
<text x="1474.5" y="213.8" font-family="Liberation Sans, sans-serif" font-size="12" fill="#6e6e70" font-weight="normal" text-anchor="start" textLength="46" lengthAdjust="spacingAndGlyphs" >2,280.00</text>
<text x="1474.5" y="176.8" font-family="Liberation Sans, sans-serif" font-size="12" fill="#6e6e70" font-weight="normal" text-anchor="start" textLength="46" lengthAdjust="spacingAndGlyphs" >2,320.00</text>
<text x="1474.5" y="138.8" font-family="Liberation Sans, sans-serif" font-size="12" fill="#6e6e70" font-weight="normal" text-anchor="start" textLength="46" lengthAdjust="spacingAndGlyphs" >2,360.00</text>
<text x="1474.5" y="101.8" font-family="Liberation Sans, sans-serif" font-size="12" fill="#6e6e70" font-weight="normal" text-anchor="start" textLength="46" lengthAdjust="spacingAndGlyphs" >2,400.00</text>
<text x="1474.5" y="64.8" font-family="Liberation Sans, sans-serif" font-size="12" fill="#6e6e70" font-weight="normal" text-anchor="start" textLength="46" lengthAdjust="spacingAndGlyphs" >2,440.00</text>
<text x="1474.5" y="691.9" font-family="Liberation Sans, sans-serif" font-size="12" fill="#6e6e70" font-weight="normal" text-anchor="start" textLength="29" lengthAdjust="spacingAndGlyphs" >25.00</text>
<text x="1474.5" y="731.6" font-family="Liberation Sans, sans-serif" font-size="12" fill="#6e6e70" font-weight="normal" text-anchor="start" textLength="35.5" lengthAdjust="spacingAndGlyphs" >250.00</text>
<text x="1474.5" y="766.2" font-family="Liberation Sans, sans-serif" font-size="12" fill="#6e6e70" font-weight="normal" text-anchor="start" textLength="22" lengthAdjust="spacingAndGlyphs" >0.00</text>
<text x="1479" y="799.6" font-family="Liberation Sans, sans-serif" font-size="12" fill="#6e6e70" font-weight="normal" text-anchor="start" textLength="40" lengthAdjust="spacingAndGlyphs" >-250.00</text>
<path d="M1466 44H1523a3 3 0 0 1 3 3V57.7a3 3 0 0 1-3 3H1466Z" fill="#000"/>
<text x="1474" y="55.8" font-family="Liberation Sans, sans-serif" font-size="12" fill="#fff" font-weight="bold" text-anchor="start" textLength="46.5" lengthAdjust="spacingAndGlyphs" >2,450.56</text>
<path d="M1466 205H1523a3 3 0 0 1 3 3V218.7a3 3 0 0 1-3 3H1466Z" fill="#000"/>
<text x="1474" y="216.8" font-family="Liberation Sans, sans-serif" font-size="12" fill="#fff" font-weight="bold" text-anchor="start" textLength="46.5" lengthAdjust="spacingAndGlyphs" >2,277.73</text>
<path d="M1466 284H1523a3 3 0 0 1 3 3V297.7a3 3 0 0 1-3 3H1466Z" fill="#000"/>
<text x="1474" y="295.8" font-family="Liberation Sans, sans-serif" font-size="12" fill="#fff" font-weight="bold" text-anchor="start" textLength="46.5" lengthAdjust="spacingAndGlyphs" >2,193.44</text>
<path d="M1466 327H1523a3 3 0 0 1 3 3V340.7a3 3 0 0 1-3 3H1466Z" fill="#000"/>
<text x="1474" y="338.8" font-family="Liberation Sans, sans-serif" font-size="12" fill="#fff" font-weight="bold" text-anchor="start" textLength="46.5" lengthAdjust="spacingAndGlyphs" >2,147.28</text>
<path d="M1466 475H1523a3 3 0 0 1 3 3V488.7a3 3 0 0 1-3 3H1466Z" fill="#000"/>
<text x="1474" y="486.8" font-family="Liberation Sans, sans-serif" font-size="12" fill="#fff" font-weight="bold" text-anchor="start" textLength="46.5" lengthAdjust="spacingAndGlyphs" >1,987.90</text>
<path d="M1466 491.7H1523a3 3 0 0 1 3 3V505.4a3 3 0 0 1-3 3H1466Z" fill="#000"/>
<text x="1474" y="503.5" font-family="Liberation Sans, sans-serif" font-size="12" fill="#fff" font-weight="bold" text-anchor="start" textLength="46.5" lengthAdjust="spacingAndGlyphs" >1,972.75</text>
<path d="M1466 531H1523a3 3 0 0 1 3 3V544.7a3 3 0 0 1-3 3H1466Z" fill="#000"/>
<text x="1474" y="542.8" font-family="Liberation Sans, sans-serif" font-size="12" fill="#fff" font-weight="bold" text-anchor="start" textLength="46.5" lengthAdjust="spacingAndGlyphs" >1,928.04</text>
<path d="M1466 641H1523a3 3 0 0 1 3 3V654.7a3 3 0 0 1-3 3H1466Z" fill="#000"/>
<text x="1474" y="652.8" font-family="Liberation Sans, sans-serif" font-size="12" fill="#fff" font-weight="bold" text-anchor="start" textLength="46.5" lengthAdjust="spacingAndGlyphs" >1,810.48</text>
<text x="54.5" y="822.8" font-family="Liberation Sans, sans-serif" font-size="12" fill="#58585c" font-weight="normal" text-anchor="middle" >Sep</text>
<text x="190.5" y="822.8" font-family="Liberation Sans, sans-serif" font-size="12" fill="#58585c" font-weight="normal" text-anchor="middle" >Oct</text>
<text x="333.5" y="822.8" font-family="Liberation Sans, sans-serif" font-size="12" fill="#58585c" font-weight="normal" text-anchor="middle" >Nov</text>
<text x="475.5" y="822.8" font-family="Liberation Sans, sans-serif" font-size="12" fill="#58585c" font-weight="normal" text-anchor="middle" >Dec</text>
<text x="611" y="822.8" font-family="Liberation Sans, sans-serif" font-size="12" fill="#424245" font-weight="bold" text-anchor="middle" >2024</text>
<text x="760.5" y="822.8" font-family="Liberation Sans, sans-serif" font-size="12" fill="#58585c" font-weight="normal" text-anchor="middle" >Feb</text>
<text x="896.5" y="822.8" font-family="Liberation Sans, sans-serif" font-size="12" fill="#58585c" font-weight="normal" text-anchor="middle" >Mar</text>
<text x="1032.5" y="822.8" font-family="Liberation Sans, sans-serif" font-size="12" fill="#58585c" font-weight="normal" text-anchor="middle" >Apr</text>
<text x="1174.5" y="822.8" font-family="Liberation Sans, sans-serif" font-size="12" fill="#58585c" font-weight="normal" text-anchor="middle" >May</text>
<text x="1323.5" y="822.8" font-family="Liberation Sans, sans-serif" font-size="12" fill="#58585c" font-weight="normal" text-anchor="middle" >Jun</text>
<text x="1453.5" y="822.8" font-family="Liberation Sans, sans-serif" font-size="12" fill="#58585c" font-weight="normal" text-anchor="middle" >Jul</text>
<rect x="10" y="9" width="272" height="23" fill="#fff" fill-opacity="0.8"/><rect x="322" y="12" width="356" height="18" fill="#fff" fill-opacity="0.8"/><rect x="10" y="69" width="573" height="18" fill="#fff" fill-opacity="0.8"/><rect x="10" y="679" width="110" height="16" fill="#fff" fill-opacity="0.8"/><rect x="10" y="721" width="151" height="16" fill="#fff" fill-opacity="0.8"/>
<circle cx="19.6" cy="20.4" r="9" fill="#d69a00"/>
<path d="M16.6 16.4h6l1.6 3.2h-9.2zM13.3 23.4l1.7-3.2h3l1.6 3.2zM19.8 23.4l1.6-3.2h3l1.7 3.2z" fill="#fff"/>
<text x="33.5" y="26" font-family="Liberation Sans, sans-serif" font-size="16" fill="#4a4a4a" font-weight="normal" text-anchor="start" textLength="244" lengthAdjust="spacingAndGlyphs" >CFDs on Gold (US$ / OZ) · 1D · TVC</text>
<circle cx="302" cy="20" r="9" fill="#089981" fill-opacity="0.16"/><circle cx="302" cy="20" r="4" fill="#089981"/>
<text x="327.6" y="25" font-family="Liberation Sans, sans-serif" font-size="13" fill="#5d606b" textLength="60" lengthAdjust="spacingAndGlyphs">O<tspan fill="#26683a">2,359.90</tspan></text>
<text x="394.2" y="25" font-family="Liberation Sans, sans-serif" font-size="13" fill="#5d606b" textLength="60" lengthAdjust="spacingAndGlyphs">H<tspan fill="#26683a">2,368.74</tspan></text>
<text x="459.8" y="25" font-family="Liberation Sans, sans-serif" font-size="13" fill="#5d606b" textLength="60" lengthAdjust="spacingAndGlyphs">L<tspan fill="#26683a">2,355.24</tspan></text>
<text x="524.0" y="25" font-family="Liberation Sans, sans-serif" font-size="13" fill="#5d606b" textLength="60" lengthAdjust="spacingAndGlyphs">C<tspan fill="#26683a">2,366.74</tspan></text>
<text x="589.8" y="25" font-family="Liberation Sans, sans-serif" font-size="13" fill="#26683a" font-weight="normal" text-anchor="start" textLength="84" lengthAdjust="spacingAndGlyphs" >+6.84 (+0.29%)</text>
<line x1="6" x2="11" y1="52" y2="52" stroke="#8a8a8a" stroke-width="2"/><line x1="72" x2="78" y1="52" y2="52" stroke="#8a8a8a" stroke-width="2"/><line x1="91" x2="99" y1="52" y2="52" stroke="#8a8a8a" stroke-width="2"/><line x1="161" x2="164.5" y1="52" y2="52" stroke="#8a8a8a" stroke-width="2"/>
<rect x="10.5" y="36.5" width="61" height="23" rx="4" fill="#fff" stroke="#f23645"/>
<text x="41" y="53" font-family="Liberation Sans, sans-serif" font-size="13" fill="#f23645" font-weight="normal" text-anchor="middle" textLength="45" lengthAdjust="spacingAndGlyphs" >2366.65</text>
<rect x="78" y="42" width="14" height="14" fill="#fff"/>
<text x="80" y="52.5" font-family="Liberation Sans, sans-serif" font-size="11" fill="#131722" font-weight="normal" text-anchor="start" textLength="10.5" lengthAdjust="spacingAndGlyphs" >23</text>
<rect x="99.5" y="36.5" width="61" height="23" rx="4" fill="#fff" stroke="#2962ff"/>
<text x="130" y="53" font-family="Liberation Sans, sans-serif" font-size="13" fill="#2962ff" font-weight="normal" text-anchor="middle" textLength="45" lengthAdjust="spacingAndGlyphs" >2366.88</text>
<text x="11" y="80" font-family="Liberation Sans, sans-serif" font-size="12" fill="#666668" font-weight="normal" text-anchor="start" textLength="383" lengthAdjust="spacingAndGlyphs" >MA Ribbon SMA close 20 SMA close 50 SMA close 100 SMA close 200</text>
<text x="401.5" y="80" font-family="Liberation Sans, sans-serif" font-size="13" fill="#f23645" font-weight="normal" text-anchor="start" textLength="50" lengthAdjust="spacingAndGlyphs" >2,335.31</text>
<text x="458.5" y="80" font-family="Liberation Sans, sans-serif" font-size="13" fill="#2962ff" font-weight="normal" text-anchor="start" textLength="50" lengthAdjust="spacingAndGlyphs" >2,343.81</text>
<text x="515" y="80" font-family="Liberation Sans, sans-serif" font-size="13" fill="#131722" font-weight="normal" text-anchor="start" >ø</text>
<text x="529" y="80" font-family="Liberation Sans, sans-serif" font-size="13" fill="#131722" font-weight="normal" text-anchor="start" textLength="51" lengthAdjust="spacingAndGlyphs" >2,114.00</text>
<rect x="11.5" y="90.5" width="28" height="20" rx="4" fill="#fff" stroke="#d1d4dc"/>
<path d="M21.5 102.5l4-4 4 4" fill="none" stroke="#131722" stroke-width="1.3"/>
<text x="11" y="690" font-family="Liberation Sans, sans-serif" font-size="12" fill="#666668" font-weight="normal" text-anchor="start" textLength="67" lengthAdjust="spacingAndGlyphs" >ATR 14 RMA</text>
<text x="86.7" y="690" font-family="Liberation Sans, sans-serif" font-size="13" fill="#c0392b" font-weight="normal" text-anchor="start" textLength="31.5" lengthAdjust="spacingAndGlyphs" >31.88</text>
<text x="11" y="732" font-family="Liberation Sans, sans-serif" font-size="12" fill="#666668" font-weight="normal" text-anchor="start" textLength="101.5" lengthAdjust="spacingAndGlyphs" >CCI 20 hlc3 SMA 5</text>
<text x="122" y="732" font-family="Liberation Sans, sans-serif" font-size="13" fill="#2962ff" font-weight="normal" text-anchor="start" textLength="37.5" lengthAdjust="spacingAndGlyphs" >131.36</text>
<rect x="1470.5" y="8.5" width="55" height="25" rx="4" fill="#fff" stroke="#e0e3eb"/>
<text x="1474.5" y="25" font-family="Liberation Sans, sans-serif" font-size="12" fill="#131722" font-weight="normal" text-anchor="start" textLength="19.5" lengthAdjust="spacingAndGlyphs" >USD</text>
<path d="M1516 20.3l2.5 2.4 2.5-2.4" fill="none" stroke="#131722" stroke-width="1.2"/>
<rect x="11.5" y="774" width="34.5" height="20" fill="#fff"/>
<path d="M14.06 776.06H25.97V790.68H20.1V781.75H14.06ZM37.2 776.06H43.9L38 790.68H31.2Z" fill="#131722"/><circle cx="31" cy="779" r="2.95" fill="#131722"/>
<path d="M1494.6 813.4h7.6l3.6 6-3.6 6h-7.6l-3.6-6z" fill="#fff" stroke="#131722" stroke-width="1.2"/><circle cx="1498.4" cy="819.4" r="2.2" fill="none" stroke="#131722" stroke-width="1.2"/>
<g clip-path="url(#cp)"><g filter="url(#ws)" opacity="0.88">
<path transform="translate(1300 743.5) skewX(-14) scale(1.02 1)" d="M6 7L13 12M3 21L10 26M1 50L12 33M29 0L20 13M23 9L56 9M26 18L22 44M25 18L52 18L48 47L40 47M14 31L58 31M22 44L48 44" fill="none" stroke="#fff" stroke-width="9.5" stroke-linejoin="miter" stroke-linecap="butt"/>
<path transform="translate(1362 743.5) skewX(-14) scale(1.02 1)" d="M8 6L44 6L40 24M15 6L11 24L52 24L48 49L36 49M2 38L42 38" fill="none" stroke="#fff" stroke-width="9.5" stroke-linejoin="miter" stroke-linecap="butt"/>
<path transform="translate(1417 743.5) skewX(-14) scale(1.02 1)" d="M5 4L25 4L25 34L5 34L5 4M12 34L3 50M19 36L27 50M31 16L58 16M47 1L47 49L38 49M45 18L30 38" fill="none" stroke="#fff" stroke-width="9.5" stroke-linejoin="miter" stroke-linecap="butt"/>
<path transform="translate(1479 743.5) skewX(-14) scale(1.02 1)" d="M15 1L4 18L16 18L4 34L20 31M2 48L21 42M27 6L53 6L29 26M37 14L56 27M30 35L53 35M41.5 35L41.5 48M25 48L58 48" fill="none" stroke="#fff" stroke-width="9.5" stroke-linejoin="miter" stroke-linecap="butt"/>
</g>
<g opacity="0.5">
<path transform="translate(1.6 1.4)" d="M1443.8 808.3H1437.4L1431.2 812.6L1430.3 817L1435.6 814.4L1432.3 829.6H1439.3Z" fill="#1a3cc0" stroke="#1a3cc0" stroke-width="0.8"/>
<text transform="translate(1299.1 831.0) scale(1.12 1)" font-family="Liberation Sans, sans-serif" font-size="29.5" font-weight="bold" font-style="italic" fill="#1a3cc0" stroke="#1a3cc0" stroke-width="1.2">z</text>
<text transform="translate(1325.3999999999999 831.0) scale(1.12 1)" font-family="Liberation Sans, sans-serif" font-size="29.5" font-weight="bold" font-style="italic" fill="#1a3cc0" stroke="#1a3cc0" stroke-width="1.2">z</text>
<text transform="translate(1354.1999999999998 831.0) scale(1.12 1)" font-family="Liberation Sans, sans-serif" font-size="29.5" font-weight="bold" font-style="italic" fill="#1a3cc0" stroke="#1a3cc0" stroke-width="1.2">r</text>
<text transform="translate(1378.0 831.0) scale(1.12 1)" font-family="Liberation Sans, sans-serif" font-size="29.5" font-weight="bold" font-style="italic" fill="#1a3cc0" stroke="#1a3cc0" stroke-width="1.2">t</text>
<text transform="translate(1398.3999999999999 831.0) scale(1.12 1)" font-family="Liberation Sans, sans-serif" font-size="29.5" font-weight="bold" font-style="italic" fill="#1a3cc0" stroke="#1a3cc0" stroke-width="1.2">0</text>
<text transform="translate(1458.6 831.0) scale(1.12 1)" font-family="Liberation Sans, sans-serif" font-size="29.5" font-weight="bold" font-style="italic" fill="#1a3cc0" stroke="#1a3cc0" stroke-width="1.2">.</text>
<text transform="translate(1476.5 831.0) scale(1.12 1)" font-family="Liberation Sans, sans-serif" font-size="29.5" font-weight="bold" font-style="italic" fill="#1a3cc0" stroke="#1a3cc0" stroke-width="1.2">c</text>
<text transform="translate(1502.0 831.0) scale(1.12 1)" font-family="Liberation Sans, sans-serif" font-size="29.5" font-weight="bold" font-style="italic" fill="#1a3cc0" stroke="#1a3cc0" stroke-width="1.2">n</text>
<path transform="translate(0 0)" d="M1443.8 808.3H1437.4L1431.2 812.6L1430.3 817L1435.6 814.4L1432.3 829.6H1439.3Z" fill="#1e90ff" stroke="#1e90ff" stroke-width="0.8"/>
<text transform="translate(1297.5 829.6) scale(1.12 1)" font-family="Liberation Sans, sans-serif" font-size="29.5" font-weight="bold" font-style="italic" fill="#1e90ff" stroke="#1e90ff" stroke-width="1.2">z</text>
<text transform="translate(1323.8 829.6) scale(1.12 1)" font-family="Liberation Sans, sans-serif" font-size="29.5" font-weight="bold" font-style="italic" fill="#1e90ff" stroke="#1e90ff" stroke-width="1.2">z</text>
<text transform="translate(1352.6 829.6) scale(1.12 1)" font-family="Liberation Sans, sans-serif" font-size="29.5" font-weight="bold" font-style="italic" fill="#1e90ff" stroke="#1e90ff" stroke-width="1.2">r</text>
<text transform="translate(1376.4 829.6) scale(1.12 1)" font-family="Liberation Sans, sans-serif" font-size="29.5" font-weight="bold" font-style="italic" fill="#1e90ff" stroke="#1e90ff" stroke-width="1.2">t</text>
<text transform="translate(1396.8 829.6) scale(1.12 1)" font-family="Liberation Sans, sans-serif" font-size="29.5" font-weight="bold" font-style="italic" fill="#1e90ff" stroke="#1e90ff" stroke-width="1.2">0</text>
<text transform="translate(1457 829.6) scale(1.12 1)" font-family="Liberation Sans, sans-serif" font-size="29.5" font-weight="bold" font-style="italic" fill="#1e90ff" stroke="#1e90ff" stroke-width="1.2">.</text>
<text transform="translate(1474.9 829.6) scale(1.12 1)" font-family="Liberation Sans, sans-serif" font-size="29.5" font-weight="bold" font-style="italic" fill="#1e90ff" stroke="#1e90ff" stroke-width="1.2">c</text>
<text transform="translate(1500.4 829.6) scale(1.12 1)" font-family="Liberation Sans, sans-serif" font-size="29.5" font-weight="bold" font-style="italic" fill="#1e90ff" stroke="#1e90ff" stroke-width="1.2">n</text>
</g>
</g>
</svg>
</body></html>
